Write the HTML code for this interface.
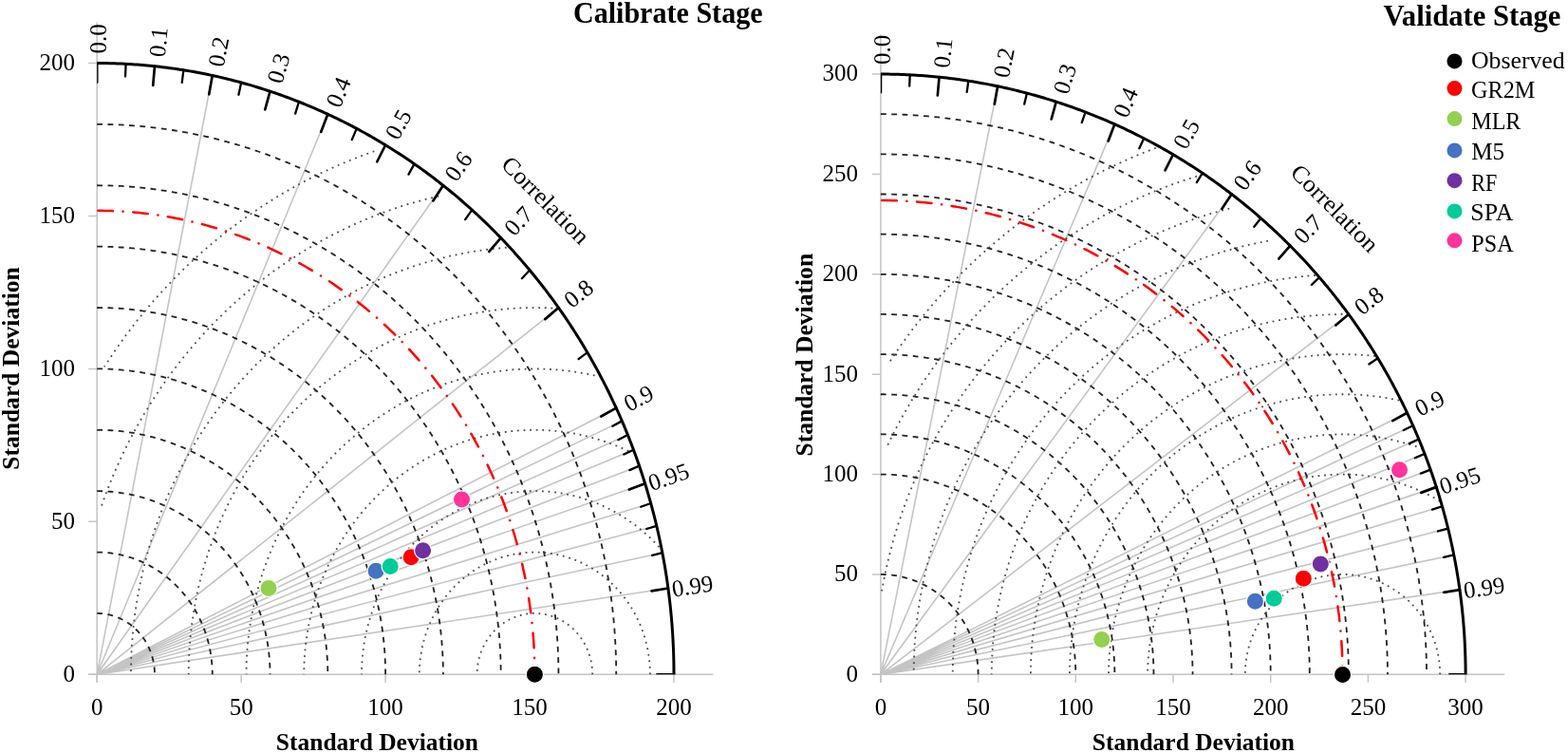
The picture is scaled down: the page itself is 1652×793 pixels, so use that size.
<!DOCTYPE html>
<html><head><meta charset="utf-8"><style>
html,body{margin:0;padding:0;background:#fff;}
svg{display:block;}
text{font-family:"Liberation Serif", "Times New Roman", serif;fill:#000;}
</style></head><body>
<svg width="1652" height="793" viewBox="0 0 1652 793">
<rect width="1652" height="793" fill="#fff"/>
<clipPath id="rcL"><rect x="102.2" y="0" width="729.36" height="710.3"/></clipPath>
<path d="M102.2,710.3 L223.76,79.51 M102.2,710.3 L345.32,120.25 M102.2,710.3 L466.88,195.26 M102.2,710.3 L588.44,324.02 M102.2,710.3 L649.22,429.67 M102.2,710.3 L655.3,443.38 M102.2,710.3 L661.38,457.98 M102.2,710.3 L667.45,473.67 M102.2,710.3 L673.53,490.65 M102.2,710.3 L679.61,509.27 M102.2,710.3 L685.69,530.04 M102.2,710.3 L691.77,553.79 M102.2,710.3 L697.84,582.19 M102.2,710.3 L703.92,619.48" stroke="#c4c4c4" stroke-width="1.6" fill="none"/>
<path d="M93.2,710.3 L751.63,710.3 M102.2,718.8 L102.2,23.53" stroke="#c4c4c4" stroke-width="1.5" fill="none"/>
<path d="M102.2,710.3 L102.2,718.8 M93.2,710.3 L102.2,710.3 M254.15,710.3 L254.15,718.8 M93.2,549.35 L102.2,549.35 M406.1,710.3 L406.1,718.8 M93.2,388.4 L102.2,388.4 M558.05,710.3 L558.05,718.8 M93.2,227.45 L102.2,227.45 M710,710.3 L710,718.8 M93.2,66.5 L102.2,66.5" stroke="#c4c4c4" stroke-width="1.5" fill="none"/>
<path d="M102.2,645.92 L102.73,645.92 L103.26,645.93 L103.79,645.94 L104.32,645.96 L104.85,645.98 L105.38,646.01 L105.91,646.04 L106.44,646.08 L106.97,646.12 L107.5,646.16 L108.03,646.22 L108.55,646.27 L109.08,646.33 L109.61,646.4 L110.13,646.47 L110.66,646.55 L111.18,646.63 L111.71,646.71 L112.23,646.8 L112.75,646.9 L113.28,647 L113.8,647.1 L114.32,647.21 L114.84,647.33 L115.36,647.45 L115.87,647.57 L116.39,647.7 L116.9,647.83 L117.42,647.97 L117.93,648.11 L118.44,648.26 L118.95,648.41 L119.46,648.57 L119.97,648.73 L120.48,648.9 L120.98,649.07 L121.49,649.25 L121.99,649.43 L122.49,649.61 L122.99,649.8 L123.49,650 L123.98,650.2 L124.48,650.4 L124.97,650.61 L125.46,650.82 L125.95,651.04 L126.44,651.26 L126.92,651.49 L127.41,651.72 L127.89,651.95 L128.37,652.19 L128.84,652.44 L129.32,652.68 L129.79,652.94 L130.27,653.19 L130.73,653.46 L131.2,653.72 L131.67,653.99 L132.13,654.27 L132.59,654.55 L133.05,654.83 L133.5,655.12 L133.96,655.41 L134.41,655.7 L134.86,656 L135.3,656.31 L135.75,656.61 L136.19,656.93 L136.63,657.24 L137.06,657.56 L137.5,657.89 L137.93,658.22 L138.35,658.55 L138.78,658.88 L139.2,659.22 L139.62,659.57 L140.04,659.92 L140.45,660.27 L140.86,660.62 L141.27,660.98 L141.67,661.35 L142.08,661.71 L142.47,662.08 L142.87,662.46 L143.26,662.83 L143.65,663.22 L144.04,663.6 L144.42,663.99 L144.8,664.38 L145.18,664.78 L145.55,665.18 L145.92,665.58 L146.29,665.98 L146.65,666.39 L147.01,666.81 L147.37,667.22 L147.72,667.64 L148.07,668.06 L148.42,668.49 L148.76,668.92 L149.1,669.35 L149.43,669.78 L149.77,670.22 L150.1,670.66 L150.42,671.11 L150.74,671.56 L151.06,672.01 L151.37,672.46 L151.68,672.91 L151.99,673.37 L152.29,673.83 L152.59,674.3 L152.88,674.77 L153.17,675.24 L153.46,675.71 L153.74,676.18 L154.02,676.66 L154.3,677.14 L154.57,677.62 L154.84,678.11 L155.1,678.6 L155.36,679.09 L155.61,679.58 L155.87,680.08 L156.11,680.57 L156.36,681.07 L156.59,681.57 L156.83,682.08 L157.06,682.58 L157.29,683.09 L157.51,683.6 L157.73,684.11 L157.94,684.63 L158.15,685.14 L158.35,685.66 L158.55,686.18 L158.75,686.7 L158.94,687.23 L159.13,687.75 L159.31,688.28 L159.49,688.81 L159.67,689.34 L159.84,689.87 L160.01,690.41 L160.17,690.94 L160.32,691.48 L160.48,692.02 L160.63,692.55 L160.77,693.1 L160.91,693.64 L161.04,694.18 L161.17,694.73 L161.3,695.27 L161.42,695.82 L161.54,696.37 L161.65,696.91 L161.76,697.46 L161.86,698.02 L161.96,698.57 L162.06,699.12 L162.15,699.67 L162.23,700.23 L162.31,700.78 L162.39,701.34 L162.46,701.9 L162.53,702.45 L162.59,703.01 L162.65,703.57 L162.7,704.13 L162.75,704.69 L162.79,705.25 L162.83,705.81 L162.87,706.37 L162.9,706.93 L162.92,707.49 L162.94,708.05 L162.96,708.61 L162.97,709.18 L162.98,709.74 L162.98,710.3" stroke="#222" stroke-width="1.8" stroke-dasharray="5.8 5.5" fill="none"/>
<path d="M102.2,581.54 L103.26,581.54 L104.32,581.56 L105.38,581.58 L106.44,581.62 L107.5,581.66 L108.56,581.72 L109.62,581.78 L110.68,581.85 L111.74,581.94 L112.79,582.03 L113.85,582.13 L114.91,582.25 L115.96,582.37 L117.01,582.5 L118.07,582.64 L119.12,582.79 L120.17,582.95 L121.22,583.13 L122.26,583.31 L123.31,583.5 L124.35,583.7 L125.39,583.91 L126.44,584.12 L127.47,584.35 L128.51,584.59 L129.55,584.84 L130.58,585.1 L131.61,585.36 L132.64,585.64 L133.66,585.93 L134.69,586.22 L135.71,586.53 L136.72,586.84 L137.74,587.17 L138.75,587.5 L139.76,587.84 L140.77,588.19 L141.78,588.56 L142.78,588.93 L143.78,589.31 L144.77,589.69 L145.76,590.09 L146.75,590.5 L147.74,590.92 L148.72,591.34 L149.7,591.78 L150.67,592.22 L151.64,592.67 L152.61,593.13 L153.57,593.6 L154.53,594.08 L155.49,594.57 L156.44,595.07 L157.39,595.57 L158.33,596.09 L159.27,596.61 L160.2,597.14 L161.13,597.68 L162.06,598.23 L162.98,598.79 L163.9,599.36 L164.81,599.93 L165.71,600.51 L166.62,601.11 L167.51,601.7 L168.41,602.31 L169.29,602.93 L170.18,603.55 L171.05,604.19 L171.92,604.83 L172.79,605.47 L173.65,606.13 L174.51,606.8 L175.36,607.47 L176.2,608.15 L177.04,608.84 L177.87,609.53 L178.7,610.23 L179.52,610.95 L180.34,611.66 L181.15,612.39 L181.95,613.12 L182.75,613.86 L183.54,614.61 L184.32,615.37 L185.1,616.13 L185.88,616.9 L186.64,617.68 L187.4,618.46 L188.16,619.25 L188.9,620.05 L189.64,620.86 L190.38,621.67 L191.1,622.49 L191.82,623.31 L192.54,624.14 L193.24,624.98 L193.94,625.83 L194.63,626.68 L195.32,627.53 L196,628.4 L196.67,629.27 L197.33,630.15 L197.99,631.03 L198.64,631.92 L199.28,632.81 L199.92,633.71 L200.54,634.62 L201.16,635.53 L201.78,636.45 L202.38,637.37 L202.98,638.3 L203.57,639.23 L204.15,640.17 L204.72,641.12 L205.29,642.07 L205.85,643.02 L206.4,643.98 L206.94,644.95 L207.47,645.92 L208,646.9 L208.52,647.88 L209.03,648.86 L209.53,649.85 L210.03,650.85 L210.51,651.84 L210.99,652.85 L211.46,653.86 L211.92,654.87 L212.37,655.88 L212.81,656.9 L213.25,657.93 L213.68,658.96 L214.1,659.99 L214.51,661.03 L214.91,662.07 L215.3,663.11 L215.69,664.16 L216.06,665.21 L216.43,666.26 L216.79,667.32 L217.14,668.38 L217.48,669.44 L217.81,670.51 L218.13,671.58 L218.45,672.65 L218.75,673.73 L219.05,674.81 L219.34,675.89 L219.62,676.97 L219.89,678.06 L220.15,679.15 L220.4,680.24 L220.64,681.34 L220.88,682.43 L221.1,683.53 L221.32,684.63 L221.53,685.73 L221.72,686.84 L221.91,687.94 L222.09,689.05 L222.26,690.16 L222.42,691.27 L222.58,692.38 L222.72,693.49 L222.85,694.61 L222.98,695.72 L223.09,696.84 L223.2,697.96 L223.3,699.08 L223.39,700.2 L223.46,701.32 L223.53,702.44 L223.59,703.56 L223.64,704.68 L223.69,705.81 L223.72,706.93 L223.74,708.05 L223.76,709.18 L223.76,710.3" stroke="#222" stroke-width="1.8" stroke-dasharray="5.8 5.5" fill="none"/>
<path d="M102.2,517.16 L103.79,517.17 L105.38,517.19 L106.97,517.23 L108.56,517.28 L110.15,517.34 L111.74,517.42 L113.33,517.52 L114.92,517.63 L116.51,517.76 L118.09,517.89 L119.68,518.05 L121.26,518.22 L122.84,518.4 L124.42,518.6 L126,518.81 L127.58,519.04 L129.15,519.28 L130.72,519.54 L132.29,519.81 L133.86,520.09 L135.43,520.39 L136.99,520.71 L138.55,521.04 L140.11,521.38 L141.67,521.74 L143.22,522.11 L144.77,522.5 L146.31,522.9 L147.85,523.31 L149.39,523.74 L150.93,524.18 L152.46,524.64 L153.99,525.11 L155.51,525.6 L157.03,526.1 L158.55,526.61 L160.06,527.14 L161.56,527.68 L163.07,528.24 L164.56,528.81 L166.06,529.39 L167.54,529.99 L169.03,530.6 L170.51,531.22 L171.98,531.86 L173.45,532.51 L174.91,533.18 L176.36,533.86 L177.82,534.55 L179.26,535.26 L180.7,535.97 L182.13,536.71 L183.56,537.45 L184.98,538.21 L186.4,538.98 L187.8,539.77 L189.21,540.57 L190.6,541.38 L191.99,542.2 L193.37,543.04 L194.74,543.88 L196.11,544.75 L197.47,545.62 L198.83,546.51 L200.17,547.41 L201.51,548.32 L202.84,549.24 L204.16,550.18 L205.48,551.13 L206.79,552.09 L208.09,553.06 L209.38,554.05 L210.66,555.04 L211.93,556.05 L213.2,557.07 L214.46,558.1 L215.71,559.15 L216.95,560.2 L218.18,561.27 L219.41,562.35 L220.62,563.44 L221.83,564.54 L223.02,565.65 L224.21,566.77 L225.39,567.9 L226.56,569.05 L227.71,570.2 L228.86,571.37 L230,572.54 L231.13,573.73 L232.25,574.93 L233.36,576.13 L234.46,577.35 L235.56,578.58 L236.64,579.82 L237.71,581.06 L238.76,582.32 L239.81,583.59 L240.85,584.87 L241.88,586.15 L242.9,587.45 L243.9,588.75 L244.9,590.07 L245.89,591.39 L246.86,592.72 L247.82,594.07 L248.78,595.42 L249.72,596.78 L250.65,598.14 L251.56,599.52 L252.47,600.9 L253.37,602.3 L254.25,603.7 L255.12,605.11 L255.98,606.53 L256.83,607.95 L257.67,609.38 L258.5,610.83 L259.31,612.27 L260.11,613.73 L260.9,615.19 L261.68,616.66 L262.44,618.14 L263.2,619.63 L263.94,621.12 L264.67,622.62 L265.38,624.12 L266.09,625.63 L266.78,627.15 L267.46,628.68 L268.12,630.21 L268.78,631.74 L269.42,633.29 L270.04,634.83 L270.66,636.39 L271.26,637.95 L271.85,639.51 L272.43,641.08 L272.99,642.66 L273.54,644.24 L274.08,645.83 L274.61,647.42 L275.12,649.02 L275.62,650.62 L276.1,652.22 L276.57,653.83 L277.03,655.45 L277.48,657.06 L277.91,658.69 L278.33,660.31 L278.73,661.94 L279.12,663.58 L279.5,665.21 L279.87,666.85 L280.22,668.5 L280.56,670.14 L280.88,671.79 L281.19,673.45 L281.49,675.1 L281.77,676.76 L282.04,678.42 L282.3,680.09 L282.54,681.75 L282.77,683.42 L282.98,685.09 L283.18,686.76 L283.37,688.44 L283.54,690.11 L283.7,691.79 L283.85,693.47 L283.98,695.15 L284.1,696.83 L284.2,698.51 L284.29,700.19 L284.37,701.88 L284.43,703.56 L284.48,705.24 L284.51,706.93 L284.53,708.61 L284.54,710.3" stroke="#222" stroke-width="1.8" stroke-dasharray="5.8 5.5" fill="none"/>
<path d="M102.2,452.78 L104.32,452.79 L106.44,452.82 L108.56,452.87 L110.68,452.94 L112.8,453.03 L114.92,453.13 L117.04,453.26 L119.16,453.41 L121.27,453.57 L123.39,453.76 L125.5,453.97 L127.61,454.19 L129.72,454.44 L131.83,454.7 L133.93,454.98 L136.04,455.29 L138.14,455.61 L140.23,455.95 L142.33,456.31 L144.42,456.69 L146.51,457.09 L148.59,457.51 L150.67,457.95 L152.75,458.41 L154.82,458.88 L156.89,459.38 L158.96,459.9 L161.02,460.43 L163.07,460.98 L165.12,461.55 L167.17,462.15 L169.21,462.76 L171.25,463.38 L173.28,464.03 L175.31,464.7 L177.33,465.38 L179.34,466.09 L181.35,466.81 L183.36,467.55 L185.35,468.31 L187.34,469.09 L189.33,469.88 L191.3,470.7 L193.27,471.53 L195.24,472.38 L197.19,473.25 L199.14,474.14 L201.09,475.04 L203.02,475.97 L204.95,476.91 L206.87,477.87 L208.78,478.84 L210.68,479.84 L212.57,480.85 L214.46,481.88 L216.34,482.92 L218.21,483.99 L220.07,485.07 L221.92,486.17 L223.76,487.28 L225.59,488.41 L227.42,489.56 L229.23,490.73 L231.03,491.91 L232.83,493.11 L234.61,494.33 L236.39,495.56 L238.15,496.81 L239.9,498.07 L241.65,499.35 L243.38,500.65 L245.1,501.96 L246.81,503.29 L248.51,504.64 L250.2,506 L251.88,507.37 L253.55,508.76 L255.2,510.17 L256.84,511.59 L258.47,513.03 L260.09,514.48 L261.7,515.95 L263.3,517.43 L264.88,518.93 L266.45,520.44 L268.01,521.96 L269.55,523.5 L271.09,525.06 L272.61,526.62 L274.11,528.21 L275.61,529.8 L277.09,531.41 L278.55,533.03 L280.01,534.67 L281.45,536.32 L282.87,537.99 L284.29,539.66 L285.68,541.35 L287.07,543.05 L288.44,544.77 L289.8,546.5 L291.14,548.24 L292.47,549.99 L293.78,551.75 L295.08,553.53 L296.36,555.32 L297.63,557.12 L298.89,558.93 L300.13,560.76 L301.35,562.59 L302.56,564.44 L303.76,566.3 L304.93,568.17 L306.1,570.04 L307.25,571.93 L308.38,573.84 L309.49,575.75 L310.59,577.67 L311.68,579.6 L312.75,581.54 L313.8,583.49 L314.84,585.45 L315.86,587.42 L316.86,589.4 L317.85,591.39 L318.82,593.39 L319.78,595.4 L320.71,597.41 L321.64,599.43 L322.54,601.47 L323.43,603.51 L324.3,605.56 L325.16,607.61 L325.99,609.68 L326.81,611.75 L327.62,613.83 L328.4,615.92 L329.17,618.01 L329.92,620.11 L330.66,622.22 L331.37,624.34 L332.07,626.46 L332.76,628.59 L333.42,630.72 L334.07,632.86 L334.7,635.01 L335.31,637.16 L335.9,639.32 L336.48,641.48 L337.04,643.65 L337.58,645.82 L338.1,648 L338.6,650.18 L339.09,652.37 L339.56,654.56 L340.01,656.76 L340.44,658.96 L340.85,661.16 L341.25,663.37 L341.63,665.58 L341.99,667.8 L342.33,670.01 L342.65,672.24 L342.95,674.46 L343.24,676.69 L343.51,678.92 L343.76,681.15 L343.99,683.38 L344.2,685.62 L344.39,687.86 L344.57,690.1 L344.73,692.34 L344.87,694.58 L344.99,696.82 L345.09,699.07 L345.17,701.31 L345.24,703.56 L345.28,705.81 L345.31,708.05 L345.32,710.3" stroke="#222" stroke-width="1.8" stroke-dasharray="5.8 5.5" fill="none"/>
<path d="M102.2,388.4 L104.85,388.41 L107.5,388.45 L110.16,388.51 L112.81,388.6 L115.46,388.71 L118.1,388.84 L120.75,389 L123.4,389.18 L126.04,389.39 L128.69,389.62 L131.33,389.88 L133.97,390.16 L136.6,390.47 L139.24,390.8 L141.87,391.15 L144.49,391.53 L147.12,391.94 L149.74,392.36 L152.36,392.81 L154.97,393.29 L157.58,393.79 L160.19,394.31 L162.79,394.86 L165.38,395.43 L167.98,396.03 L170.56,396.65 L173.14,397.29 L175.72,397.96 L178.29,398.65 L180.86,399.37 L183.41,400.11 L185.97,400.87 L188.51,401.66 L191.05,402.47 L193.58,403.3 L196.11,404.15 L198.63,405.03 L201.14,405.94 L203.64,406.86 L206.14,407.81 L208.63,408.79 L211.11,409.78 L213.58,410.8 L216.04,411.84 L218.5,412.9 L220.94,413.99 L223.38,415.1 L225.81,416.23 L228.23,417.38 L230.63,418.56 L233.03,419.76 L235.42,420.98 L237.8,422.22 L240.17,423.48 L242.53,424.77 L244.87,426.08 L247.21,427.41 L249.53,428.76 L251.85,430.13 L254.15,431.53 L256.44,432.94 L258.72,434.38 L260.99,435.84 L263.24,437.31 L265.49,438.81 L267.72,440.33 L269.93,441.87 L272.14,443.43 L274.33,445.01 L276.51,446.61 L278.68,448.24 L280.83,449.88 L282.97,451.54 L285.09,453.22 L287.2,454.92 L289.3,456.64 L291.38,458.38 L293.45,460.14 L295.5,461.91 L297.54,463.71 L299.57,465.53 L301.58,467.36 L303.57,469.21 L305.55,471.08 L307.51,472.97 L309.46,474.88 L311.39,476.8 L313.31,478.74 L315.21,480.7 L317.09,482.68 L318.96,484.68 L320.81,486.69 L322.64,488.72 L324.46,490.76 L326.26,492.83 L328.04,494.91 L329.81,497 L331.56,499.11 L333.29,501.24 L335,503.39 L336.7,505.55 L338.37,507.72 L340.03,509.91 L341.68,512.12 L343.3,514.34 L344.91,516.58 L346.49,518.83 L348.06,521.09 L349.61,523.37 L351.14,525.67 L352.65,527.97 L354.14,530.3 L355.62,532.63 L357.07,534.98 L358.51,537.34 L359.92,539.72 L361.32,542.11 L362.69,544.51 L364.05,546.92 L365.39,549.35 L366.7,551.79 L368,554.24 L369.27,556.7 L370.53,559.18 L371.76,561.66 L372.98,564.16 L374.17,566.67 L375.34,569.19 L376.5,571.72 L377.63,574.26 L378.74,576.81 L379.83,579.37 L380.89,581.94 L381.94,584.52 L382.97,587.11 L383.97,589.71 L384.95,592.32 L385.92,594.94 L386.85,597.57 L387.77,600.2 L388.67,602.85 L389.54,605.5 L390.4,608.16 L391.23,610.83 L392.03,613.5 L392.82,616.19 L393.59,618.88 L394.33,621.57 L395.05,624.28 L395.74,626.99 L396.42,629.7 L397.07,632.43 L397.7,635.15 L398.31,637.89 L398.9,640.63 L399.46,643.37 L400,646.12 L400.52,648.88 L401.01,651.64 L401.48,654.4 L401.93,657.17 L402.36,659.94 L402.76,662.72 L403.14,665.5 L403.5,668.28 L403.83,671.07 L404.15,673.86 L404.44,676.65 L404.7,679.45 L404.94,682.24 L405.16,685.04 L405.36,687.85 L405.53,690.65 L405.68,693.45 L405.81,696.26 L405.91,699.07 L406,701.87 L406.05,704.68 L406.09,707.49 L406.1,710.3" stroke="#222" stroke-width="1.8" stroke-dasharray="5.8 5.5" fill="none"/>
<path d="M102.2,324.02 L105.38,324.03 L108.56,324.08 L111.75,324.15 L114.93,324.26 L118.11,324.39 L121.29,324.55 L124.46,324.74 L127.64,324.96 L130.81,325.21 L133.98,325.49 L137.15,325.8 L140.32,326.14 L143.48,326.5 L146.64,326.9 L149.8,327.32 L152.95,327.78 L156.1,328.26 L159.25,328.78 L162.39,329.32 L165.53,329.89 L168.66,330.49 L171.78,331.12 L174.91,331.77 L178.02,332.46 L181.13,333.18 L184.24,333.92 L187.33,334.69 L190.42,335.49 L193.51,336.32 L196.59,337.18 L199.66,338.07 L202.72,338.98 L205.77,339.93 L208.82,340.9 L211.86,341.9 L214.89,342.93 L217.91,343.98 L220.93,345.07 L223.93,346.18 L226.93,347.32 L229.91,348.48 L232.89,349.68 L235.86,350.9 L238.81,352.15 L241.76,353.42 L244.69,354.73 L247.62,356.06 L250.53,357.42 L253.43,358.8 L256.32,360.21 L259.2,361.65 L262.07,363.11 L264.92,364.6 L267.76,366.12 L270.59,367.67 L273.41,369.24 L276.21,370.83 L279,372.45 L281.78,374.1 L284.54,375.77 L287.29,377.47 L290.02,379.19 L292.74,380.94 L295.45,382.72 L298.14,384.51 L300.82,386.34 L303.48,388.19 L306.13,390.06 L308.76,391.96 L311.37,393.88 L313.97,395.82 L316.55,397.79 L319.12,399.79 L321.67,401.8 L324.2,403.84 L326.72,405.91 L329.22,407.99 L331.7,410.1 L334.17,412.24 L336.61,414.39 L339.04,416.57 L341.45,418.77 L343.84,420.99 L346.22,423.24 L348.57,425.5 L350.91,427.79 L353.23,430.1 L355.53,432.43 L357.81,434.79 L360.07,437.16 L362.31,439.55 L364.53,441.97 L366.73,444.4 L368.91,446.86 L371.07,449.33 L373.21,451.83 L375.33,454.34 L377.43,456.88 L379.5,459.43 L381.56,462 L383.6,464.6 L385.61,467.21 L387.6,469.84 L389.57,472.48 L391.52,475.15 L393.45,477.83 L395.35,480.53 L397.23,483.25 L399.09,485.99 L400.93,488.74 L402.74,491.51 L404.53,494.29 L406.3,497.1 L408.05,499.92 L409.77,502.75 L411.47,505.6 L413.14,508.47 L414.79,511.35 L416.42,514.25 L418.02,517.16 L419.6,520.09 L421.16,523.03 L422.69,525.98 L424.19,528.95 L425.68,531.94 L427.13,534.93 L428.56,537.94 L429.97,540.97 L431.35,544 L432.71,547.05 L434.04,550.11 L435.35,553.19 L436.63,556.27 L437.89,559.37 L439.12,562.48 L440.33,565.6 L441.5,568.73 L442.66,571.87 L443.79,575.02 L444.89,578.18 L445.96,581.36 L447.01,584.54 L448.03,587.73 L449.03,590.93 L450,594.14 L450.95,597.36 L451.86,600.59 L452.75,603.83 L453.62,607.07 L454.45,610.32 L455.26,613.58 L456.05,616.85 L456.8,620.12 L457.53,623.41 L458.24,626.69 L458.91,629.99 L459.56,633.29 L460.18,636.59 L460.77,639.91 L461.34,643.22 L461.88,646.55 L462.39,649.87 L462.87,653.2 L463.33,656.54 L463.76,659.88 L464.16,663.22 L464.54,666.57 L464.88,669.92 L465.2,673.28 L465.49,676.63 L465.76,679.99 L465.99,683.35 L466.2,686.72 L466.38,690.08 L466.53,693.45 L466.66,696.82 L466.76,700.19 L466.82,703.56 L466.87,706.93 L466.88,710.3" stroke="#222" stroke-width="1.8" stroke-dasharray="5.8 5.5" fill="none"/>
<path d="M102.2,259.64 L105.91,259.66 L109.63,259.71 L113.34,259.79 L117.05,259.91 L120.76,260.07 L124.47,260.26 L128.17,260.48 L131.88,260.74 L135.58,261.03 L139.28,261.35 L142.98,261.71 L146.67,262.11 L150.36,262.54 L154.05,263 L157.73,263.5 L161.41,264.03 L165.09,264.59 L168.76,265.19 L172.42,265.82 L176.08,266.49 L179.73,267.19 L183.38,267.92 L187.02,268.69 L190.66,269.49 L194.29,270.32 L197.91,271.19 L201.52,272.09 L205.13,273.03 L208.73,273.99 L212.32,275 L215.9,276.03 L219.47,277.1 L223.04,278.2 L226.59,279.33 L230.14,280.5 L233.67,281.7 L237.2,282.93 L240.72,284.19 L244.22,285.49 L247.72,286.82 L251.2,288.18 L254.67,289.57 L258.13,291 L261.58,292.46 L265.02,293.94 L268.44,295.47 L271.85,297.02 L275.25,298.6 L278.64,300.22 L282.01,301.86 L285.37,303.54 L288.71,305.25 L292.04,306.99 L295.35,308.76 L298.66,310.56 L301.94,312.39 L305.21,314.25 L308.47,316.14 L311.71,318.07 L314.93,320.02 L318.14,322 L321.33,324.01 L324.5,326.05 L327.66,328.12 L330.8,330.22 L333.92,332.34 L337.03,334.5 L340.11,336.69 L343.18,338.9 L346.23,341.14 L349.27,343.41 L352.28,345.71 L355.27,348.03 L358.25,350.39 L361.2,352.77 L364.14,355.18 L367.06,357.61 L369.95,360.07 L372.83,362.56 L375.68,365.07 L378.51,367.62 L381.33,370.18 L384.12,372.78 L386.89,375.39 L389.64,378.04 L392.36,380.71 L395.07,383.4 L397.75,386.12 L400.41,388.87 L403.05,391.64 L405.66,394.43 L408.25,397.25 L410.82,400.09 L413.36,402.95 L415.88,405.84 L418.38,408.75 L420.85,411.68 L423.3,414.64 L425.72,417.62 L428.12,420.62 L430.5,423.64 L432.84,426.69 L435.17,429.76 L437.47,432.85 L439.74,435.96 L441.99,439.09 L444.21,442.24 L446.4,445.41 L448.57,448.6 L450.72,451.81 L452.83,455.04 L454.92,458.29 L456.99,461.56 L459.02,464.85 L461.03,468.16 L463.01,471.49 L464.96,474.83 L466.89,478.19 L468.79,481.57 L470.66,484.97 L472.5,488.38 L474.32,491.82 L476.1,495.26 L477.86,498.73 L479.59,502.21 L481.29,505.7 L482.96,509.22 L484.6,512.74 L486.21,516.29 L487.8,519.84 L489.35,523.41 L490.88,527 L492.37,530.6 L493.84,534.21 L495.27,537.84 L496.68,541.48 L498.06,545.13 L499.4,548.8 L500.72,552.48 L502,556.17 L503.26,559.87 L504.48,563.58 L505.67,567.3 L506.84,571.04 L507.97,574.78 L509.07,578.54 L510.14,582.31 L511.18,586.08 L512.19,589.87 L513.16,593.66 L514.11,597.46 L515.02,601.28 L515.9,605.1 L516.76,608.92 L517.57,612.76 L518.36,616.6 L519.12,620.45 L519.84,624.31 L520.54,628.17 L521.2,632.04 L521.83,635.92 L522.42,639.8 L522.99,643.69 L523.52,647.58 L524.02,651.48 L524.49,655.38 L524.93,659.28 L525.33,663.19 L525.7,667.11 L526.04,671.02 L526.35,674.94 L526.62,678.86 L526.87,682.79 L527.08,686.71 L527.26,690.64 L527.4,694.57 L527.51,698.5 L527.6,702.43 L527.64,706.37 L527.66,710.3" stroke="#222" stroke-width="1.8" stroke-dasharray="5.8 5.5" fill="none"/>
<path d="M102.2,195.26 L106.44,195.28 L110.69,195.34 L114.93,195.44 L119.17,195.57 L123.41,195.75 L127.65,195.97 L131.88,196.22 L136.12,196.51 L140.35,196.85 L144.58,197.22 L148.8,197.63 L153.03,198.08 L157.24,198.57 L161.46,199.1 L165.67,199.67 L169.87,200.27 L174.07,200.92 L178.26,201.6 L182.45,202.32 L186.63,203.08 L190.81,203.88 L194.98,204.72 L199.14,205.6 L203.29,206.51 L207.44,207.47 L211.58,208.46 L215.71,209.49 L219.83,210.56 L223.94,211.67 L228.05,212.81 L232.14,213.99 L236.23,215.21 L240.3,216.47 L244.36,217.76 L248.42,219.1 L252.46,220.47 L256.49,221.88 L260.5,223.32 L264.51,224.8 L268.5,226.32 L272.48,227.88 L276.45,229.47 L280.41,231.1 L284.35,232.76 L288.28,234.47 L292.19,236.2 L296.09,237.98 L299.97,239.79 L303.84,241.63 L307.69,243.52 L311.53,245.43 L315.35,247.39 L319.16,249.37 L322.95,251.4 L326.72,253.45 L330.48,255.55 L334.21,257.67 L337.93,259.84 L341.64,262.03 L345.32,264.26 L348.99,266.53 L352.63,268.82 L356.26,271.16 L359.87,273.52 L363.46,275.92 L367.03,278.35 L370.57,280.82 L374.1,283.31 L377.61,285.84 L381.1,288.4 L384.56,291 L388,293.62 L391.43,296.28 L394.83,298.97 L398.2,301.69 L401.56,304.44 L404.89,307.23 L408.2,310.04 L411.49,312.88 L414.75,315.76 L417.99,318.66 L421.2,321.59 L424.39,324.56 L427.56,327.55 L430.7,330.57 L433.81,333.62 L436.91,336.7 L439.97,339.81 L443.01,342.95 L446.02,346.11 L449.01,349.3 L451.97,352.52 L454.91,355.77 L457.81,359.04 L460.69,362.34 L463.55,365.67 L466.37,369.02 L469.17,372.4 L471.94,375.81 L474.68,379.24 L477.39,382.69 L480.08,386.17 L482.74,389.68 L485.36,393.21 L487.96,396.76 L490.53,400.34 L493.07,403.94 L495.58,407.57 L498.06,411.21 L500.5,414.89 L502.92,418.58 L505.31,422.29 L507.67,426.03 L510,429.79 L512.29,433.57 L514.55,437.37 L516.79,441.19 L518.99,445.03 L521.16,448.9 L523.3,452.78 L525.4,456.68 L527.48,460.6 L529.52,464.54 L531.52,468.5 L533.5,472.48 L535.44,476.48 L537.35,480.49 L539.23,484.52 L541.07,488.57 L542.88,492.63 L544.66,496.72 L546.4,500.81 L548.11,504.93 L549.79,509.06 L551.43,513.2 L553.03,517.36 L554.61,521.54 L556.14,525.73 L557.65,529.93 L559.12,534.15 L560.55,538.38 L561.95,542.62 L563.31,546.88 L564.64,551.14 L565.94,555.42 L567.19,559.72 L568.42,564.02 L569.6,568.34 L570.76,572.66 L571.87,577 L572.95,581.34 L574,585.7 L575.01,590.07 L575.98,594.44 L576.91,598.82 L577.81,603.22 L578.68,607.62 L579.51,612.03 L580.3,616.44 L581.05,620.86 L581.77,625.29 L582.45,629.73 L583.1,634.17 L583.71,638.62 L584.28,643.07 L584.82,647.53 L585.31,652 L585.78,656.46 L586.2,660.94 L586.59,665.41 L586.94,669.89 L587.26,674.37 L587.53,678.86 L587.77,683.34 L587.98,687.83 L588.14,692.33 L588.27,696.82 L588.37,701.31 L588.42,705.81 L588.44,710.3" stroke="#222" stroke-width="1.8" stroke-dasharray="5.8 5.5" fill="none"/>
<path d="M102.2,130.88 L106.97,130.9 L111.75,130.97 L116.52,131.08 L121.29,131.23 L126.06,131.43 L130.83,131.67 L135.59,131.96 L140.36,132.29 L145.12,132.67 L149.88,133.08 L154.63,133.55 L159.38,134.05 L164.12,134.6 L168.86,135.2 L173.6,135.84 L178.33,136.52 L183.05,137.24 L187.77,138.01 L192.48,138.83 L197.19,139.68 L201.89,140.58 L206.58,141.53 L211.26,142.51 L215.93,143.54 L220.6,144.61 L225.25,145.73 L229.9,146.89 L234.54,148.09 L239.16,149.34 L243.78,150.62 L248.38,151.95 L252.98,153.33 L257.56,154.74 L262.13,156.2 L266.69,157.7 L271.24,159.24 L275.77,160.82 L280.29,162.45 L284.8,164.11 L289.29,165.82 L293.77,167.57 L298.23,169.36 L302.68,171.2 L307.12,173.07 L311.54,174.99 L315.94,176.94 L320.32,178.94 L324.69,180.97 L329.05,183.05 L333.38,185.17 L337.7,187.32 L342,189.52 L346.28,191.76 L350.54,194.03 L354.79,196.35 L359.01,198.7 L363.22,201.1 L367.4,203.53 L371.57,206 L375.71,208.51 L379.83,211.05 L383.94,213.64 L388.02,216.26 L392.08,218.92 L396.11,221.62 L400.13,224.36 L404.12,227.13 L408.09,229.94 L412.04,232.78 L415.96,235.67 L419.86,238.59 L423.73,241.54 L427.58,244.53 L431.4,247.55 L435.2,250.62 L438.98,253.71 L442.73,256.84 L446.45,260.01 L450.15,263.21 L453.82,266.44 L457.46,269.71 L461.08,273.01 L464.67,276.34 L468.23,279.71 L471.76,283.11 L475.27,286.54 L478.74,290 L482.19,293.5 L485.61,297.03 L489,300.59 L492.36,304.18 L495.69,307.8 L498.99,311.45 L502.27,315.14 L505.51,318.85 L508.72,322.59 L511.89,326.36 L515.04,330.17 L518.16,334 L521.24,337.86 L524.29,341.74 L527.31,345.66 L530.3,349.6 L533.26,353.57 L536.18,357.57 L539.07,361.6 L541.93,365.65 L544.75,369.73 L547.54,373.83 L550.29,377.96 L553.01,382.11 L555.7,386.29 L558.35,390.5 L560.97,394.73 L563.55,398.98 L566.1,403.25 L568.61,407.55 L571.09,411.88 L573.53,416.22 L575.93,420.59 L578.3,424.98 L580.63,429.39 L582.93,433.82 L585.19,438.28 L587.41,442.75 L589.6,447.25 L591.75,451.76 L593.86,456.3 L595.93,460.85 L597.97,465.43 L599.97,470.02 L601.93,474.63 L603.85,479.26 L605.73,483.9 L607.58,488.57 L609.39,493.25 L611.16,497.94 L612.89,502.65 L614.58,507.38 L616.23,512.13 L617.84,516.89 L619.42,521.66 L620.95,526.45 L622.45,531.25 L623.9,536.07 L625.32,540.89 L626.69,545.74 L628.03,550.59 L629.33,555.46 L630.58,560.34 L631.8,565.22 L632.97,570.13 L634.11,575.04 L635.2,579.96 L636.25,584.89 L637.27,589.83 L638.24,594.78 L639.17,599.74 L640.06,604.71 L640.91,609.68 L641.72,614.67 L642.49,619.66 L643.21,624.66 L643.9,629.66 L644.54,634.67 L645.14,639.69 L645.7,644.71 L646.22,649.73 L646.7,654.77 L647.14,659.8 L647.53,664.84 L647.89,669.88 L648.2,674.93 L648.47,679.98 L648.7,685.03 L648.89,690.08 L649.03,695.13 L649.14,700.19 L649.2,705.24 L649.22,710.3" stroke="#222" stroke-width="1.8" stroke-dasharray="5.8 5.5" fill="none"/>
<path d="M624.15,710.3 L624.11,708.05 L624,705.81 L623.82,703.57 L623.56,701.34 L623.22,699.12 L622.82,696.91 L622.34,694.73 L621.79,692.55 L621.17,690.41 L620.48,688.28 L619.72,686.18 L618.89,684.11 L618,682.08 L617.03,680.08 L616.01,678.11 L614.91,676.18 L613.76,674.3 L612.54,672.46 L611.26,670.66 L609.93,668.92 L608.54,667.22 L607.09,665.58 L605.59,663.99 L604.04,662.46 L602.44,660.98 L600.79,659.57 L599.09,658.22 L597.36,656.93 L595.58,655.7 L593.76,654.55 L591.9,653.46 L590.01,652.44 L588.09,651.49 L586.14,650.61 L584.16,649.8 L582.15,649.07 L580.12,648.41 L578.07,647.83 L576.01,647.33 L573.92,646.9 L571.83,646.55 L569.72,646.27 L567.61,646.08 L565.49,645.96 L563.37,645.92 L561.25,645.96 L559.13,646.08 L557.02,646.27 L554.91,646.55 L552.81,646.9 L550.73,647.33 L548.66,647.83 L546.62,648.41 L544.59,649.07 L542.58,649.8 L540.6,650.61 L538.65,651.49 L536.72,652.44 L534.83,653.46 L532.98,654.55 L531.16,655.7 L529.38,656.93 L527.64,658.22 L525.95,659.57 L524.3,660.98 L522.7,662.46 L521.15,663.99 L519.65,665.58 L518.2,667.22 L516.81,668.92 L515.47,670.66 L514.2,672.46 L512.98,674.3 L511.82,676.18 L510.73,678.11 L509.7,680.08 L508.74,682.08 L507.84,684.11 L507.01,686.18 L506.25,688.28 L505.56,690.41 L504.94,692.55 L504.39,694.73 L503.92,696.91 L503.51,699.12 L503.18,701.34 L502.92,703.57 L502.74,705.81 L502.63,708.05 L502.59,710.3" stroke="#4a4a4a" stroke-width="1.8" stroke-dasharray="1.8 4.8" fill="none"/><path d="M684.93,710.3 L684.85,705.81 L684.63,701.32 L684.26,696.84 L683.75,692.38 L683.08,687.94 L682.27,683.53 L681.32,679.15 L680.22,674.81 L678.98,670.51 L677.6,666.26 L676.08,662.07 L674.42,657.93 L672.63,653.86 L670.7,649.85 L668.64,645.92 L666.46,642.07 L664.15,638.3 L661.71,634.62 L659.16,631.03 L656.49,627.53 L653.7,624.14 L650.81,620.86 L647.81,617.68 L644.71,614.61 L641.51,611.66 L638.21,608.84 L634.82,606.13 L631.34,603.55 L627.79,601.11 L624.15,598.79 L620.44,596.61 L616.66,594.57 L612.81,592.67 L608.91,590.92 L604.94,589.31 L600.93,587.84 L596.87,586.53 L592.78,585.36 L588.64,584.35 L584.48,583.5 L580.29,582.79 L576.07,582.25 L571.85,581.85 L567.61,581.62 L563.37,581.54 L559.13,581.62 L554.89,581.85 L550.66,582.25 L546.45,582.79 L542.26,583.5 L538.09,584.35 L533.96,585.36 L529.86,586.53 L525.8,587.84 L521.79,589.31 L517.83,590.92 L513.93,592.67 L510.08,594.57 L506.3,596.61 L502.59,598.79 L498.95,601.11 L495.39,603.55 L491.92,606.13 L488.53,608.84 L485.23,611.66 L482.03,614.61 L478.93,617.68 L475.93,620.86 L473.03,624.14 L470.25,627.53 L467.58,631.03 L465.02,634.62 L462.59,638.3 L460.28,642.07 L458.09,645.92 L456.04,649.85 L454.11,653.86 L452.32,657.93 L450.66,662.07 L449.14,666.26 L447.76,670.51 L446.52,674.81 L445.42,679.15 L444.46,683.53 L443.66,687.94 L442.99,692.38 L442.47,696.84 L442.1,701.32 L441.88,705.81 L441.81,710.3" stroke="#4a4a4a" stroke-width="1.8" stroke-dasharray="1.8 4.8" fill="none"/><path d="M694.53,576.13 L690.03,571.37 L685.38,566.77 L680.57,562.35 L675.63,558.1 L670.55,554.05 L665.33,550.18 L659.99,546.51 L654.54,543.04 L648.97,539.77 L643.3,536.71 L637.53,533.86 L631.67,531.22 L625.73,528.81 L619.71,526.61 L613.63,524.64 L607.48,522.9 L601.28,521.38 L595.03,520.09 L588.75,519.04 L582.43,518.22 L576.09,517.63 L569.73,517.28 L563.37,517.16 L557,517.28 L550.65,517.63 L544.31,518.22 L537.99,519.04 L531.71,520.09 L525.46,521.38 L519.26,522.9 L513.11,524.64 L507.02,526.61 L501,528.81 L495.06,531.22 L489.2,533.86 L483.44,536.71 L477.76,539.77 L472.2,543.04 L466.74,546.51 L461.41,550.18 L456.19,554.05 L451.11,558.1 L446.16,562.35 L441.36,566.77 L436.7,571.37 L432.2,576.13 L427.86,581.06 L423.69,586.15 L419.68,591.39 L415.85,596.78 L412.2,602.3 L408.74,607.95 L405.46,613.73 L402.37,619.63 L399.48,625.63 L396.79,631.74 L394.31,637.95 L392.02,644.24 L389.95,650.62 L388.09,657.06 L386.44,663.58 L385.01,670.14 L383.8,676.76 L382.8,683.42 L382.03,690.11 L381.47,696.83 L381.14,703.56 L381.03,710.3" stroke="#4a4a4a" stroke-width="1.8" stroke-dasharray="1.8 4.8" fill="none"/><path d="M662.25,475.04 L654.44,471.53 L646.52,468.31 L638.5,465.38 L630.38,462.76 L622.18,460.43 L613.92,458.41 L605.59,456.69 L597.2,455.29 L588.78,454.19 L580.33,453.41 L571.85,452.94 L563.37,452.78 L554.88,452.94 L546.41,453.41 L537.96,454.19 L529.53,455.29 L521.15,456.69 L512.82,458.41 L504.55,460.43 L496.36,462.76 L488.24,465.38 L480.22,468.31 L472.29,471.53 L464.48,475.04 L456.79,478.84 L449.23,482.92 L441.81,487.28 L434.53,491.91 L427.42,496.81 L420.47,501.96 L413.69,507.37 L407.09,513.03 L400.69,518.93 L394.48,525.06 L388.48,531.41 L382.69,537.99 L377.13,544.77 L371.79,551.75 L366.68,558.93 L361.81,566.3 L357.19,573.84 L352.82,581.54 L348.71,589.4 L344.85,597.41 L341.27,605.56 L337.95,613.83 L334.91,622.22 L332.15,630.72 L329.67,639.32 L327.47,648 L325.56,656.76 L323.94,665.58 L322.61,674.46 L321.58,683.38 L320.84,692.34 L320.4,701.31 L320.25,710.3" stroke="#4a4a4a" stroke-width="1.8" stroke-dasharray="1.8 4.8" fill="none"/><path d="M626.55,395.43 L616.14,393.29 L605.66,391.53 L595.13,390.16 L584.57,389.18 L573.97,388.6 L563.37,388.4 L552.76,388.6 L542.17,389.18 L531.6,390.16 L521.07,391.53 L510.6,393.29 L500.18,395.43 L489.85,397.96 L479.6,400.87 L469.46,404.15 L459.43,407.81 L449.53,411.84 L439.76,416.23 L430.15,420.98 L420.7,426.08 L411.42,431.53 L402.33,437.31 L393.43,443.43 L384.74,449.88 L376.27,456.64 L368.03,463.71 L360.02,471.08 L352.26,478.74 L344.76,486.69 L337.53,494.91 L330.57,503.39 L323.89,512.12 L317.51,521.09 L311.42,530.3 L305.65,539.72 L300.18,549.35 L295.04,559.18 L290.22,569.19 L285.74,579.37 L281.6,589.71 L277.8,600.2 L274.34,610.83 L271.24,621.57 L268.5,632.43 L266.11,643.37 L264.09,654.4 L262.43,665.5 L261.13,676.65 L260.21,687.85 L259.65,699.07 L259.47,710.3" stroke="#4a4a4a" stroke-width="1.8" stroke-dasharray="1.8 4.8" fill="none"/><path d="M588.81,324.96 L576.1,324.26 L563.37,324.02 L550.64,324.26 L537.93,324.96 L525.25,326.14 L512.61,327.78 L500.04,329.89 L487.55,332.46 L475.14,335.49 L462.85,338.98 L450.68,342.93 L438.64,347.32 L426.76,352.15 L415.04,357.42 L403.5,363.11 L392.16,369.24 L381.03,375.77 L370.12,382.72 L359.44,390.06 L349.01,397.79 L338.85,405.91 L328.96,414.39 L319.35,423.24 L310.04,432.43 L301.04,441.97 L292.36,451.83 L284.01,462 L276,472.48 L268.34,483.25 L261.03,494.29 L254.1,505.6 L247.55,517.16 L241.37,528.95 L235.6,540.97 L230.22,553.19 L225.24,565.6 L220.68,578.18 L216.54,590.93 L212.82,603.83 L209.52,616.85 L206.66,629.99 L204.23,643.22 L202.24,656.54 L200.69,669.92 L199.58,683.35 L198.91,696.82 L198.69,710.3" stroke="#4a4a4a" stroke-width="1.8" stroke-dasharray="1.8 4.8" fill="none"/><path d="M533.69,260.74 L518.9,262.11 L504.16,264.03 L489.49,266.49 L474.91,269.49 L460.44,273.03 L446.1,277.1 L431.89,281.7 L417.85,286.82 L403.99,292.46 L390.32,298.6 L376.86,305.25 L363.63,312.39 L350.64,320.02 L337.91,328.12 L325.45,336.69 L313.29,345.71 L301.43,355.18 L289.89,365.07 L278.68,375.39 L267.82,386.12 L257.32,397.25 L247.19,408.75 L237.45,420.62 L228.1,432.85 L219.16,445.41 L210.65,458.29 L202.56,471.49 L194.91,484.97 L187.71,498.73 L180.97,512.74 L174.69,527 L168.89,541.48 L163.57,556.17 L158.73,571.04 L154.39,586.08 L150.55,601.28 L147.21,616.6 L144.37,632.04 L142.05,647.58 L140.24,663.19 L138.94,678.86 L138.17,694.57 L137.91,710.3" stroke="#4a4a4a" stroke-width="1.8" stroke-dasharray="1.8 4.8" fill="none"/><path d="M462.27,206.51 L445.74,210.56 L429.34,215.21 L413.11,220.47 L397.06,226.32 L381.22,232.76 L365.6,239.79 L350.21,247.39 L335.09,255.55 L320.25,264.26 L305.7,273.52 L291.47,283.31 L277.56,293.62 L264.01,304.44 L250.82,315.76 L238.01,327.55 L225.6,339.81 L213.6,352.52 L202.02,365.67 L190.89,379.24 L180.21,393.21 L169.99,407.57 L160.26,422.29 L151.01,437.37 L142.27,452.78 L134.04,468.5 L126.34,484.52 L119.17,500.81 L112.53,517.36 L106.45,534.15" stroke="#4a4a4a" stroke-width="1.8" stroke-dasharray="1.8 4.8" fill="none"/><path d="M394.33,159.24 L376.28,165.82 L358.45,173.07 L340.88,180.97 L323.57,189.52 L306.56,198.7 L289.86,208.51 L273.49,218.92 L257.48,229.94 L241.84,241.54 L226.59,253.71 L211.75,266.44 L197.34,279.71 L183.38,293.5 L169.87,307.8 L156.85,322.59 L144.33,337.86 L132.31,353.57 L120.82,369.73 L109.87,386.29" stroke="#4a4a4a" stroke-width="1.8" stroke-dasharray="1.8 4.8" fill="none"/>
<path d="M102.2,221.82 L106.22,221.84 L110.25,221.89 L114.27,221.98 L118.29,222.11 L122.32,222.28 L126.34,222.49 L130.35,222.73 L134.37,223.01 L138.38,223.32 L142.39,223.68 L146.4,224.07 L150.41,224.49 L154.41,224.96 L158.4,225.46 L162.39,226 L166.38,226.57 L170.37,227.18 L174.34,227.83 L178.31,228.52 L182.28,229.24 L186.24,230 L190.2,230.79 L194.14,231.62 L198.08,232.49 L202.02,233.4 L205.94,234.34 L209.86,235.31 L213.77,236.33 L217.67,237.38 L221.56,238.46 L225.44,239.58 L229.32,240.74 L233.18,241.93 L237.03,243.16 L240.88,244.43 L244.71,245.72 L248.53,247.06 L252.34,248.43 L256.14,249.84 L259.93,251.28 L263.7,252.75 L267.47,254.26 L271.22,255.81 L274.96,257.39 L278.68,259 L282.39,260.65 L286.09,262.33 L289.77,264.05 L293.44,265.8 L297.1,267.58 L300.74,269.4 L304.36,271.25 L307.97,273.14 L311.57,275.06 L315.14,277.01 L318.71,278.99 L322.25,281.01 L325.78,283.06 L329.29,285.15 L332.78,287.26 L336.26,289.41 L339.72,291.59 L343.16,293.8 L346.58,296.04 L349.99,298.32 L353.37,300.62 L356.74,302.96 L360.08,305.33 L363.41,307.73 L366.72,310.16 L370,312.62 L373.27,315.11 L376.51,317.63 L379.74,320.18 L382.94,322.76 L386.12,325.37 L389.28,328.01 L392.42,330.68 L395.54,333.37 L398.63,336.1 L401.7,338.85 L404.75,341.64 L407.78,344.45 L410.78,347.29 L413.76,350.15 L416.72,353.05 L419.65,355.97 L422.55,358.91 L425.44,361.89 L428.3,364.89 L431.13,367.92 L433.94,370.97 L436.72,374.05 L439.48,377.16 L442.21,380.29 L444.91,383.44 L447.59,386.62 L450.25,389.83 L452.88,393.06 L455.48,396.31 L458.05,399.59 L460.6,402.89 L463.11,406.21 L465.61,409.56 L468.07,412.93 L470.51,416.32 L472.91,419.74 L475.29,423.18 L477.64,426.64 L479.97,430.12 L482.26,433.62 L484.53,437.14 L486.76,440.69 L488.97,444.25 L491.15,447.84 L493.29,451.44 L495.41,455.07 L497.5,458.71 L499.56,462.38 L501.58,466.06 L503.58,469.76 L505.55,473.48 L507.48,477.22 L509.39,480.97 L511.26,484.74 L513.1,488.53 L514.92,492.34 L516.7,496.16 L518.44,500 L520.16,503.86 L521.85,507.73 L523.5,511.62 L525.12,515.52 L526.71,519.43 L528.26,523.37 L529.79,527.31 L531.28,531.27 L532.74,535.24 L534.16,539.23 L535.56,543.23 L536.92,547.24 L538.24,551.27 L539.54,555.3 L540.8,559.35 L542.02,563.41 L543.22,567.48 L544.38,571.56 L545.5,575.66 L546.6,579.76 L547.65,583.87 L548.68,587.99 L549.67,592.13 L550.63,596.27 L551.55,600.42 L552.44,604.57 L553.29,608.74 L554.11,612.91 L554.9,617.09 L555.65,621.28 L556.36,625.48 L557.04,629.68 L557.69,633.88 L558.3,638.1 L558.88,642.32 L559.42,646.54 L559.93,650.77 L560.4,655 L560.84,659.24 L561.25,663.48 L561.61,667.73 L561.95,671.97 L562.24,676.23 L562.51,680.48 L562.74,684.73 L562.93,688.99 L563.09,693.25 L563.21,697.51 L563.3,701.77 L563.35,706.04 L563.37,710.3" stroke="#ff0000" stroke-width="2.5" stroke-dasharray="15.6 10.6 0.1 10.6" stroke-dashoffset="-1.2" stroke-linecap="round" fill="none"/>
<path d="M102.2,66.5 L104.85,66.51 L107.5,66.52 L110.16,66.56 L112.81,66.6 L115.46,66.65 L118.11,66.72 L120.76,66.8 L123.41,66.89 L126.06,67 L128.71,67.11 L131.36,67.24 L134.01,67.38 L136.66,67.54 L139.31,67.7 L141.95,67.88 L144.6,68.07 L147.24,68.27 L149.89,68.48 L152.53,68.71 L155.17,68.95 L157.81,69.2 L160.46,69.46 L163.09,69.74 L165.73,70.03 L168.37,70.33 L171,70.64 L173.64,70.96 L176.27,71.3 L178.9,71.65 L181.53,72.01 L184.16,72.38 L186.79,72.77 L189.41,73.16 L192.04,73.57 L194.66,73.99 L197.28,74.43 L199.9,74.87 L202.52,75.33 L205.13,75.8 L207.74,76.28 L210.35,76.77 L212.96,77.28 L215.57,77.8 L218.17,78.33 L220.78,78.87 L223.38,79.42 L225.97,79.99 L228.57,80.57 L231.16,81.16 L233.75,81.76 L236.34,82.37 L238.93,83 L241.51,83.64 L244.09,84.29 L246.67,84.95 L249.24,85.62 L251.81,86.31 L254.38,87.01 L256.95,87.72 L259.51,88.44 L262.07,89.17 L264.63,89.91 L267.18,90.67 L269.73,91.44 L272.28,92.22 L274.82,93.01 L277.37,93.82 L279.9,94.63 L282.44,95.46 L284.97,96.3 L287.5,97.15 L290.02,98.01 L292.54,98.88 L295.06,99.77 L297.57,100.67 L300.08,101.58 L302.59,102.5 L305.09,103.43 L307.59,104.37 L310.08,105.33 L312.57,106.29 L315.06,107.27 L317.54,108.26 L320.02,109.26 L322.49,110.27 L324.96,111.3 L327.42,112.33 L329.89,113.38 L332.34,114.44 L334.79,115.51 L337.24,116.59 L339.69,117.68 L342.13,118.78 L344.56,119.9 L346.99,121.02 L349.41,122.16 L351.83,123.31 L354.25,124.47 L356.66,125.64 L359.07,126.82 L361.47,128.01 L363.86,129.22 L366.26,130.43 L368.64,131.66 L371.02,132.89 L373.4,134.14 L375.77,135.4 L378.14,136.67 L380.5,137.95 L382.85,139.24 L385.2,140.54 L387.54,141.86 L389.88,143.18 L392.22,144.52 L394.54,145.86 L396.87,147.22 L399.18,148.59 L401.5,149.97 L403.8,151.35 L406.1,152.75 L408.39,154.16 L410.68,155.58 L412.96,157.01 L415.24,158.46 L417.51,159.91 L419.77,161.37 L422.03,162.84 L424.28,164.33 L426.53,165.82 L428.77,167.32 L431,168.84 L433.23,170.36 L435.45,171.9 L437.67,173.44 L439.88,175 L442.08,176.57 L444.27,178.14 L446.46,179.73 L448.64,181.32 L450.82,182.93 L452.99,184.55 L455.15,186.17 L457.31,187.81 L459.46,189.45 L461.6,191.11 L463.73,192.78 L465.86,194.45 L467.98,196.14 L470.1,197.83 L472.21,199.54 L474.31,201.25 L476.4,202.98 L478.49,204.71 L480.56,206.46 L482.64,208.21 L484.7,209.97 L486.76,211.75 L488.81,213.53 L490.85,215.32 L492.89,217.12 L494.91,218.93 L496.93,220.75 L498.95,222.58 L500.95,224.42 L502.95,226.27 L504.94,228.12 L506.92,229.99 L508.9,231.86 L510.86,233.75 L512.82,235.64 L514.78,237.54 L516.72,239.45 L518.65,241.37 L520.58,243.3 L522.5,245.24 L524.41,247.19 L526.32,249.14 L528.21,251.11 L530.1,253.08 L531.98,255.06 L533.85,257.06 L535.71,259.05 L537.57,261.06 L539.41,263.08 L541.25,265.1 L543.08,267.14 L544.9,269.18 L546.72,271.23 L548.52,273.29 L550.32,275.36 L552.1,277.43 L553.88,279.51 L555.65,281.61 L557.42,283.71 L559.17,285.81 L560.91,287.93 L562.65,290.05 L564.37,292.19 L566.09,294.33 L567.8,296.47 L569.5,298.63 L571.19,300.79 L572.88,302.96 L574.55,305.14 L576.21,307.33 L577.87,309.53 L579.52,311.73 L581.15,313.94 L582.78,316.15 L584.4,318.38 L586.01,320.61 L587.61,322.85 L589.2,325.1 L590.78,327.35 L592.36,329.61 L593.92,331.88 L595.47,334.16 L597.02,336.44 L598.55,338.73 L600.08,341.03 L601.6,343.34 L603.1,345.65 L604.6,347.97 L606.09,350.29 L607.57,352.62 L609.04,354.96 L610.49,357.31 L611.94,359.66 L613.38,362.02 L614.81,364.39 L616.23,366.76 L617.64,369.14 L619.04,371.52 L620.43,373.92 L621.82,376.31 L623.19,378.72 L624.55,381.13 L625.9,383.55 L627.24,385.97 L628.57,388.4 L629.89,390.84 L631.2,393.28 L632.5,395.73 L633.79,398.18 L635.07,400.64 L636.35,403.11 L637.61,405.58 L638.86,408.05 L640.1,410.54 L641.33,413.03 L642.54,415.52 L643.75,418.02 L644.95,420.53 L646.14,423.04 L647.32,425.55 L648.49,428.08 L649.64,430.6 L650.79,433.14 L651.93,435.68 L653.05,438.22 L654.17,440.77 L655.27,443.32 L656.37,445.88 L657.45,448.44 L658.53,451.01 L659.59,453.59 L660.64,456.16 L661.68,458.75 L662.71,461.34 L663.73,463.93 L664.74,466.53 L665.74,469.13 L666.73,471.74 L667.71,474.35 L668.67,476.96 L669.63,479.58 L670.58,482.21 L671.51,484.84 L672.43,487.47 L673.35,490.11 L674.25,492.75 L675.14,495.4 L676.02,498.05 L676.89,500.7 L677.74,503.36 L678.59,506.02 L679.43,508.69 L680.25,511.35 L681.07,514.03 L681.87,516.71 L682.66,519.39 L683.44,522.07 L684.21,524.76 L684.97,527.45 L685.72,530.15 L686.45,532.84 L687.18,535.55 L687.89,538.25 L688.6,540.96 L689.29,543.67 L689.97,546.39 L690.64,549.11 L691.3,551.83 L691.95,554.55 L692.58,557.28 L693.21,560.01 L693.82,562.74 L694.42,565.48 L695.01,568.21 L695.59,570.96 L696.16,573.7 L696.72,576.45 L697.26,579.2 L697.8,581.95 L698.32,584.7 L698.83,587.46 L699.33,590.22 L699.82,592.98 L700.3,595.74 L700.77,598.51 L701.22,601.27 L701.66,604.04 L702.1,606.81 L702.52,609.59 L702.93,612.36 L703.32,615.14 L703.71,617.92 L704.08,620.7 L704.45,623.48 L704.8,626.27 L705.14,629.05 L705.47,631.84 L705.79,634.63 L706.09,637.42 L706.39,640.21 L706.67,643 L706.94,645.8 L707.2,648.59 L707.45,651.39 L707.69,654.19 L707.91,656.99 L708.13,659.79 L708.33,662.59 L708.52,665.39 L708.7,668.19 L708.87,671 L709.02,673.8 L709.17,676.61 L709.3,679.41 L709.42,682.22 L709.53,685.02 L709.63,687.83 L709.72,690.64 L709.79,693.45 L709.86,696.26 L709.91,699.06 L709.95,701.87 L709.98,704.68 L709.99,707.49 L710,710.3" stroke="#000" stroke-width="3" fill="none"/>
<g clip-path="url(#rcL)"><path d="M102.2,66.5 L102.2,86.7 M162.98,69.73 L161.22,89.83 M223.76,79.51 L220.24,99.3 M284.54,96.15 L279.26,115.42 M345.32,120.25 L338.28,138.76 M406.1,152.75 L397.3,170.25 M466.88,195.26 L456.32,211.42 M527.66,250.53 L515.34,264.96 M588.44,324.02 L574.36,336.14 M649.22,429.67 L633.38,438.48 M679.61,509.27 L662.89,515.58 M703.92,619.48 L686.5,622.33 M710,710.3 L692.4,710.3" stroke="#000" stroke-width="2.7" stroke-linecap="round" fill="none"/>
<path d="M132.59,67.31 L132.05,80.49 M193.37,73.78 L191.74,86.83 M254.15,86.94 L251.43,99.72 M314.93,107.22 L311.12,119.59 M375.71,135.37 L370.81,147.16 M436.49,172.62 L430.5,183.65 M497.27,221.05 L490.19,231.09 M558.05,284.47 L549.88,293.2 M618.83,371.16 L609.57,378.11 M655.3,443.38 L645.38,448.85 M661.38,457.98 L651.35,463.16 M667.45,473.67 L657.32,478.52 M673.53,490.65 L663.29,495.16 M685.69,530.04 L675.22,533.73 M691.77,553.79 L681.19,557 M697.84,582.19 L687.16,584.81" stroke="#000" stroke-width="2.3" stroke-linecap="round" fill="none"/></g>
<circle cx="396.1" cy="601.3" r="9.1" fill="#4472c4" stroke="#fff" stroke-width="1.2"/>
<circle cx="411.2" cy="596.6" r="9.1" fill="#00cc99" stroke="#fff" stroke-width="1.2"/>
<circle cx="433.1" cy="586.7" r="9.1" fill="#ff0000" stroke="#fff" stroke-width="1.2"/>
<circle cx="445.6" cy="579.8" r="9.1" fill="#7030a0" stroke="#fff" stroke-width="1.2"/>
<circle cx="283" cy="619.4" r="9.1" fill="#92d050" stroke="#fff" stroke-width="1.2"/>
<circle cx="486.5" cy="525.9" r="9.1" fill="#ff3399" stroke="#fff" stroke-width="1.2"/>
<circle cx="563.4" cy="710.3" r="9.1" fill="#000000" stroke="#fff" stroke-width="1.2"/>
<text transform="translate(102.2,40.8) rotate(-90)" dy="9.9" text-anchor="middle" font-size="25">0.0</text>
<text transform="translate(165.41,44.14) rotate(-84.58)" dy="9.9" text-anchor="middle" font-size="25">0.1</text>
<text transform="translate(228.62,54.27) rotate(-79.09)" dy="9.9" text-anchor="middle" font-size="25">0.2</text>
<text transform="translate(291.85,71.52) rotate(-73.46)" dy="9.9" text-anchor="middle" font-size="25">0.3</text>
<text transform="translate(355.11,96.49) rotate(-67.61)" dy="9.9" text-anchor="middle" font-size="25">0.4</text>
<text transform="translate(418.4,130.19) rotate(-61.41)" dy="9.9" text-anchor="middle" font-size="25">0.5</text>
<text transform="translate(481.73,174.29) rotate(-54.7)" dy="9.9" text-anchor="middle" font-size="25">0.6</text>
<text transform="translate(545.12,231.67) rotate(-47.22)" dy="9.9" text-anchor="middle" font-size="25">0.7</text>
<text transform="translate(608.56,308.03) rotate(-38.46)" dy="9.9" text-anchor="middle" font-size="25">0.8</text>
<text transform="translate(672.09,417.94) rotate(-27.16)" dy="9.9" text-anchor="middle" font-size="25">0.9</text>
<text transform="translate(703.88,500.82) rotate(-19.2)" dy="9.9" text-anchor="middle" font-size="25">0.95</text>
<text transform="translate(729.33,615.65) rotate(-8.58)" dy="9.9" text-anchor="middle" font-size="25">0.99</text>
<text x="102.2" y="753.2" text-anchor="middle" font-size="25">0</text>
<text x="79" y="717.7" text-anchor="end" font-size="25">0</text>
<text x="254.15" y="753.2" text-anchor="middle" font-size="25">50</text>
<text x="79" y="556.75" text-anchor="end" font-size="25">50</text>
<text x="406.1" y="753.2" text-anchor="middle" font-size="25">100</text>
<text x="79" y="395.8" text-anchor="end" font-size="25">100</text>
<text x="558.05" y="753.2" text-anchor="middle" font-size="25">150</text>
<text x="79" y="234.85" text-anchor="end" font-size="25">150</text>
<text x="710" y="753.2" text-anchor="middle" font-size="25">200</text>
<text x="79" y="73.9" text-anchor="end" font-size="25">200</text>
<clipPath id="rcR"><rect x="927.9" y="0" width="739.44" height="710.3"/></clipPath>
<path d="M927.9,710.3 L1051.14,90.82 M927.9,710.3 L1174.38,130.83 M927.9,710.3 L1297.62,204.5 M927.9,710.3 L1420.86,330.95 M927.9,710.3 L1482.48,434.71 M927.9,710.3 L1488.64,448.16 M927.9,710.3 L1494.8,462.51 M927.9,710.3 L1500.97,477.91 M927.9,710.3 L1507.13,494.59 M927.9,710.3 L1513.29,512.88 M927.9,710.3 L1519.45,533.27 M927.9,710.3 L1525.61,556.6 M927.9,710.3 L1531.78,584.48 M927.9,710.3 L1537.94,621.11" stroke="#c4c4c4" stroke-width="1.6" fill="none"/>
<path d="M918.9,710.3 L1585.18,710.3 M927.9,718.8 L927.9,36.53" stroke="#c4c4c4" stroke-width="1.5" fill="none"/>
<path d="M927.9,710.3 L927.9,718.8 M918.9,710.3 L927.9,710.3 M1030.6,710.3 L1030.6,718.8 M918.9,604.92 L927.9,604.92 M1133.3,710.3 L1133.3,718.8 M918.9,499.55 L927.9,499.55 M1236,710.3 L1236,718.8 M918.9,394.17 L927.9,394.17 M1338.7,710.3 L1338.7,718.8 M918.9,288.8 L927.9,288.8 M1441.4,710.3 L1441.4,718.8 M918.9,183.42 L927.9,183.42 M1544.1,710.3 L1544.1,718.8 M918.9,78.05 L927.9,78.05" stroke="#c4c4c4" stroke-width="1.5" fill="none"/>
<path d="M927.9,604.92 L928.8,604.93 L929.69,604.94 L930.59,604.96 L931.48,604.99 L932.38,605.03 L933.27,605.07 L934.17,605.12 L935.06,605.18 L935.96,605.25 L936.85,605.33 L937.74,605.41 L938.64,605.5 L939.53,605.6 L940.42,605.71 L941.31,605.83 L942.19,605.95 L943.08,606.08 L943.97,606.22 L944.85,606.37 L945.73,606.53 L946.62,606.69 L947.5,606.86 L948.38,607.04 L949.25,607.23 L950.13,607.42 L951,607.63 L951.87,607.84 L952.75,608.06 L953.61,608.28 L954.48,608.52 L955.35,608.76 L956.21,609.01 L957.07,609.26 L957.93,609.53 L958.78,609.8 L959.64,610.08 L960.49,610.37 L961.34,610.67 L962.18,610.97 L963.03,611.28 L963.87,611.6 L964.7,611.92 L965.54,612.26 L966.37,612.6 L967.2,612.95 L968.03,613.3 L968.85,613.66 L969.67,614.04 L970.49,614.41 L971.3,614.8 L972.11,615.19 L972.92,615.59 L973.72,616 L974.52,616.41 L975.32,616.83 L976.11,617.26 L976.9,617.69 L977.69,618.14 L978.47,618.59 L979.25,619.04 L980.02,619.51 L980.79,619.98 L981.56,620.45 L982.32,620.94 L983.08,621.43 L983.83,621.93 L984.58,622.43 L985.33,622.94 L986.07,623.46 L986.81,623.98 L987.54,624.51 L988.27,625.05 L988.99,625.59 L989.71,626.14 L990.42,626.7 L991.13,627.26 L991.83,627.83 L992.53,628.41 L993.23,628.99 L993.91,629.58 L994.6,630.17 L995.28,630.77 L995.95,631.38 L996.62,631.99 L997.28,632.61 L997.94,633.23 L998.59,633.86 L999.24,634.5 L999.88,635.14 L1000.52,635.79 L1001.15,636.44 L1001.78,637.1 L1002.4,637.76 L1003.01,638.43 L1003.62,639.11 L1004.22,639.79 L1004.82,640.48 L1005.41,641.17 L1005.99,641.86 L1006.57,642.57 L1007.15,643.27 L1007.71,643.99 L1008.27,644.7 L1008.83,645.42 L1009.38,646.15 L1009.92,646.88 L1010.46,647.62 L1010.99,648.36 L1011.51,649.11 L1012.03,649.86 L1012.54,650.61 L1013.04,651.38 L1013.54,652.14 L1014.03,652.91 L1014.52,653.68 L1014.99,654.46 L1015.47,655.24 L1015.93,656.03 L1016.39,656.82 L1016.84,657.61 L1017.29,658.41 L1017.72,659.21 L1018.15,660.02 L1018.58,660.83 L1019,661.64 L1019.41,662.46 L1019.81,663.28 L1020.21,664.11 L1020.6,664.93 L1020.98,665.77 L1021.35,666.6 L1021.72,667.44 L1022.08,668.28 L1022.44,669.13 L1022.78,669.97 L1023.12,670.83 L1023.45,671.68 L1023.78,672.54 L1024.1,673.4 L1024.41,674.26 L1024.71,675.13 L1025,675.99 L1025.29,676.86 L1025.57,677.74 L1025.85,678.61 L1026.11,679.49 L1026.37,680.37 L1026.62,681.25 L1026.86,682.14 L1027.1,683.03 L1027.33,683.92 L1027.55,684.81 L1027.76,685.7 L1027.97,686.6 L1028.17,687.49 L1028.36,688.39 L1028.54,689.29 L1028.71,690.19 L1028.88,691.1 L1029.04,692 L1029.19,692.91 L1029.34,693.82 L1029.47,694.72 L1029.6,695.63 L1029.72,696.55 L1029.83,697.46 L1029.94,698.37 L1030.04,699.29 L1030.13,700.2 L1030.21,701.12 L1030.28,702.03 L1030.35,702.95 L1030.41,703.87 L1030.46,704.79 L1030.5,705.7 L1030.54,706.62 L1030.56,707.54 L1030.58,708.46 L1030.6,709.38 L1030.6,710.3" stroke="#222" stroke-width="1.8" stroke-dasharray="5.8 5.5" fill="none"/>
<path d="M927.9,499.55 L929.69,499.56 L931.48,499.58 L933.28,499.62 L935.07,499.68 L936.86,499.75 L938.65,499.84 L940.44,499.94 L942.23,500.06 L944.02,500.2 L945.8,500.35 L947.59,500.52 L949.37,500.7 L951.15,500.9 L952.93,501.12 L954.71,501.35 L956.49,501.6 L958.26,501.86 L960.03,502.14 L961.8,502.44 L963.57,502.75 L965.33,503.08 L967.09,503.42 L968.85,503.78 L970.61,504.16 L972.36,504.55 L974.1,504.95 L975.85,505.37 L977.59,505.81 L979.33,506.26 L981.06,506.73 L982.79,507.21 L984.52,507.71 L986.24,508.23 L987.95,508.76 L989.66,509.3 L991.37,509.86 L993.07,510.44 L994.77,511.03 L996.46,511.64 L998.15,512.26 L999.83,512.9 L1001.51,513.55 L1003.18,514.21 L1004.84,514.9 L1006.5,515.59 L1008.16,516.3 L1009.8,517.03 L1011.44,517.77 L1013.08,518.53 L1014.71,519.3 L1016.33,520.08 L1017.94,520.88 L1019.55,521.69 L1021.15,522.52 L1022.74,523.36 L1024.33,524.22 L1025.91,525.09 L1027.48,525.97 L1029.04,526.87 L1030.6,527.79 L1032.15,528.71 L1033.69,529.65 L1035.22,530.61 L1036.75,531.57 L1038.26,532.56 L1039.77,533.55 L1041.27,534.56 L1042.76,535.58 L1044.24,536.62 L1045.71,537.66 L1047.18,538.73 L1048.63,539.8 L1050.08,540.89 L1051.51,541.99 L1052.94,543.1 L1054.36,544.23 L1055.76,545.37 L1057.16,546.52 L1058.55,547.68 L1059.93,548.86 L1061.3,550.04 L1062.65,551.24 L1064,552.46 L1065.34,553.68 L1066.67,554.92 L1067.98,556.17 L1069.29,557.43 L1070.58,558.7 L1071.87,559.98 L1073.14,561.28 L1074.4,562.58 L1075.65,563.9 L1076.89,565.23 L1078.12,566.57 L1079.34,567.92 L1080.54,569.28 L1081.74,570.65 L1082.92,572.04 L1084.09,573.43 L1085.25,574.83 L1086.39,576.25 L1087.53,577.67 L1088.65,579.11 L1089.76,580.55 L1090.85,582 L1091.94,583.47 L1093.01,584.94 L1094.07,586.42 L1095.12,587.92 L1096.15,589.42 L1097.18,590.93 L1098.18,592.45 L1099.18,593.98 L1100.16,595.52 L1101.13,597.06 L1102.09,598.62 L1103.03,600.18 L1103.96,601.76 L1104.88,603.34 L1105.78,604.92 L1106.67,606.52 L1107.55,608.13 L1108.41,609.74 L1109.26,611.36 L1110.09,612.99 L1110.91,614.62 L1111.72,616.26 L1112.51,617.91 L1113.29,619.57 L1114.06,621.23 L1114.81,622.9 L1115.54,624.58 L1116.26,626.26 L1116.97,627.95 L1117.66,629.65 L1118.34,631.35 L1119.01,633.06 L1119.66,634.77 L1120.29,636.49 L1120.91,638.22 L1121.52,639.95 L1122.11,641.69 L1122.69,643.43 L1123.25,645.17 L1123.79,646.93 L1124.32,648.68 L1124.84,650.44 L1125.34,652.21 L1125.83,653.98 L1126.3,655.75 L1126.76,657.53 L1127.2,659.31 L1127.62,661.1 L1128.04,662.89 L1128.43,664.69 L1128.81,666.48 L1129.18,668.28 L1129.53,670.09 L1129.86,671.89 L1130.18,673.7 L1130.48,675.52 L1130.77,677.33 L1131.04,679.15 L1131.3,680.97 L1131.54,682.79 L1131.77,684.62 L1131.98,686.44 L1132.17,688.27 L1132.35,690.1 L1132.52,691.93 L1132.67,693.76 L1132.8,695.6 L1132.92,697.43 L1133.02,699.27 L1133.1,701.11 L1133.17,702.94 L1133.23,704.78 L1133.27,706.62 L1133.29,708.46 L1133.3,710.3" stroke="#222" stroke-width="1.8" stroke-dasharray="5.8 5.5" fill="none"/>
<path d="M927.9,457.4 L930.05,457.41 L932.2,457.44 L934.35,457.49 L936.5,457.55 L938.65,457.64 L940.8,457.75 L942.95,457.87 L945.09,458.02 L947.24,458.18 L949.38,458.36 L951.52,458.56 L953.66,458.79 L955.8,459.03 L957.94,459.29 L960.07,459.56 L962.2,459.86 L964.33,460.18 L966.46,460.51 L968.58,460.87 L970.7,461.24 L972.82,461.63 L974.93,462.05 L977.04,462.48 L979.15,462.93 L981.25,463.39 L983.35,463.88 L985.44,464.39 L987.53,464.91 L989.61,465.46 L991.69,466.02 L993.77,466.6 L995.84,467.2 L997.9,467.81 L999.96,468.45 L1002.02,469.1 L1004.07,469.78 L1006.11,470.47 L1008.15,471.18 L1010.18,471.91 L1012.2,472.65 L1014.22,473.42 L1016.23,474.2 L1018.24,475 L1020.23,475.82 L1022.22,476.65 L1024.21,477.5 L1026.18,478.38 L1028.15,479.26 L1030.11,480.17 L1032.07,481.09 L1034.01,482.04 L1035.95,482.99 L1037.88,483.97 L1039.8,484.96 L1041.71,485.97 L1043.62,487 L1045.51,488.05 L1047.4,489.11 L1049.27,490.19 L1051.14,491.28 L1053,492.39 L1054.85,493.52 L1056.69,494.67 L1058.51,495.83 L1060.33,497.01 L1062.14,498.2 L1063.94,499.41 L1065.73,500.64 L1067.51,501.88 L1069.28,503.14 L1071.03,504.41 L1072.78,505.7 L1074.51,507 L1076.24,508.33 L1077.95,509.66 L1079.65,511.01 L1081.34,512.38 L1083.01,513.76 L1084.68,515.16 L1086.33,516.57 L1087.98,517.99 L1089.61,519.43 L1091.22,520.89 L1092.83,522.36 L1094.42,523.84 L1096,525.34 L1097.57,526.85 L1099.12,528.38 L1100.66,529.92 L1102.19,531.47 L1103.7,533.04 L1105.2,534.62 L1106.69,536.22 L1108.16,537.82 L1109.62,539.44 L1111.07,541.08 L1112.5,542.72 L1113.92,544.38 L1115.32,546.05 L1116.71,547.74 L1118.09,549.44 L1119.45,551.14 L1120.8,552.87 L1122.13,554.6 L1123.45,556.34 L1124.75,558.1 L1126.03,559.87 L1127.31,561.65 L1128.56,563.44 L1129.8,565.24 L1131.03,567.06 L1132.24,568.88 L1133.44,570.72 L1134.62,572.56 L1135.78,574.42 L1136.93,576.28 L1138.06,578.16 L1139.17,580.05 L1140.27,581.94 L1141.36,583.85 L1142.43,585.77 L1143.48,587.69 L1144.51,589.63 L1145.53,591.57 L1146.53,593.52 L1147.52,595.49 L1148.48,597.46 L1149.43,599.44 L1150.37,601.42 L1151.29,603.42 L1152.19,605.42 L1153.07,607.44 L1153.94,609.46 L1154.79,611.48 L1155.62,613.52 L1156.43,615.56 L1157.23,617.61 L1158.01,619.67 L1158.77,621.73 L1159.52,623.8 L1160.24,625.88 L1160.95,627.96 L1161.64,630.05 L1162.32,632.15 L1162.97,634.25 L1163.61,636.36 L1164.23,638.47 L1164.83,640.59 L1165.42,642.72 L1165.98,644.84 L1166.53,646.98 L1167.06,649.12 L1167.57,651.26 L1168.06,653.41 L1168.54,655.56 L1168.99,657.72 L1169.43,659.88 L1169.85,662.04 L1170.25,664.21 L1170.64,666.38 L1171,668.56 L1171.35,670.74 L1171.67,672.92 L1171.98,675.1 L1172.27,677.29 L1172.54,679.48 L1172.8,681.67 L1173.03,683.86 L1173.25,686.06 L1173.44,688.26 L1173.62,690.46 L1173.78,692.66 L1173.92,694.86 L1174.04,697.06 L1174.15,699.27 L1174.23,701.47 L1174.3,703.68 L1174.34,705.89 L1174.37,708.09 L1174.38,710.3" stroke="#222" stroke-width="1.8" stroke-dasharray="5.8 5.5" fill="none"/>
<path d="M927.9,415.25 L930.41,415.26 L932.92,415.29 L935.43,415.35 L937.94,415.43 L940.44,415.53 L942.95,415.65 L945.46,415.8 L947.96,415.97 L950.46,416.16 L952.96,416.37 L955.46,416.61 L957.96,416.87 L960.45,417.15 L962.94,417.45 L965.43,417.77 L967.92,418.12 L970.4,418.49 L972.88,418.88 L975.36,419.3 L977.83,419.73 L980.3,420.19 L982.77,420.67 L985.23,421.17 L987.69,421.7 L990.14,422.24 L992.59,422.81 L995.03,423.4 L997.47,424.01 L999.9,424.65 L1002.33,425.3 L1004.75,425.98 L1007.16,426.68 L1009.57,427.4 L1011.97,428.14 L1014.37,428.91 L1016.76,429.69 L1019.14,430.5 L1021.52,431.32 L1023.89,432.17 L1026.25,433.04 L1028.61,433.93 L1030.95,434.85 L1033.29,435.78 L1035.62,436.73 L1037.94,437.71 L1040.26,438.71 L1042.56,439.72 L1044.86,440.76 L1047.15,441.82 L1049.43,442.89 L1051.7,443.99 L1053.96,445.11 L1056.21,446.25 L1058.45,447.41 L1060.68,448.59 L1062.9,449.79 L1065.11,451.01 L1067.31,452.24 L1069.5,453.5 L1071.68,454.78 L1073.85,456.08 L1076,457.39 L1078.15,458.73 L1080.28,460.08 L1082.41,461.46 L1084.52,462.85 L1086.61,464.26 L1088.7,465.69 L1090.78,467.14 L1092.84,468.61 L1094.89,470.1 L1096.92,471.6 L1098.95,473.12 L1100.96,474.66 L1102.96,476.22 L1104.94,477.8 L1106.91,479.39 L1108.87,481 L1110.81,482.63 L1112.74,484.28 L1114.66,485.94 L1116.56,487.62 L1118.44,489.32 L1120.32,491.04 L1122.17,492.77 L1124.02,494.51 L1125.84,496.28 L1127.66,498.06 L1129.45,499.86 L1131.24,501.67 L1133,503.5 L1134.75,505.34 L1136.49,507.2 L1138.21,509.08 L1139.91,510.97 L1141.6,512.87 L1143.27,514.79 L1144.92,516.73 L1146.56,518.68 L1148.18,520.65 L1149.79,522.63 L1151.38,524.62 L1152.95,526.63 L1154.5,528.65 L1156.04,530.68 L1157.56,532.73 L1159.06,534.8 L1160.54,536.87 L1162.01,538.96 L1163.46,541.07 L1164.89,543.18 L1166.3,545.31 L1167.69,547.45 L1169.07,549.6 L1170.43,551.77 L1171.76,553.95 L1173.09,556.14 L1174.39,558.34 L1175.67,560.55 L1176.93,562.77 L1178.18,565.01 L1179.41,567.26 L1180.61,569.51 L1181.8,571.78 L1182.97,574.06 L1184.12,576.35 L1185.25,578.65 L1186.36,580.96 L1187.45,583.28 L1188.52,585.61 L1189.57,587.94 L1190.6,590.29 L1191.61,592.65 L1192.6,595.01 L1193.57,597.39 L1194.52,599.77 L1195.45,602.16 L1196.36,604.56 L1197.25,606.97 L1198.12,609.39 L1198.97,611.81 L1199.79,614.24 L1200.6,616.68 L1201.39,619.12 L1202.15,621.58 L1202.89,624.04 L1203.62,626.5 L1204.32,628.97 L1205,631.45 L1205.66,633.94 L1206.3,636.43 L1206.92,638.92 L1207.51,641.42 L1208.09,643.93 L1208.64,646.44 L1209.18,648.96 L1209.69,651.48 L1210.18,654 L1210.64,656.53 L1211.09,659.07 L1211.52,661.6 L1211.92,664.14 L1212.3,666.69 L1212.66,669.24 L1213,671.79 L1213.32,674.34 L1213.61,676.9 L1213.88,679.46 L1214.14,682.02 L1214.37,684.58 L1214.57,687.15 L1214.76,689.72 L1214.92,692.29 L1215.07,694.86 L1215.19,697.43 L1215.28,700 L1215.36,702.58 L1215.42,705.15 L1215.45,707.73 L1215.46,710.3" stroke="#222" stroke-width="1.8" stroke-dasharray="5.8 5.5" fill="none"/>
<path d="M927.9,373.1 L930.77,373.11 L933.64,373.15 L936.5,373.22 L939.37,373.31 L942.24,373.42 L945.1,373.56 L947.96,373.73 L950.82,373.92 L953.68,374.14 L956.54,374.38 L959.4,374.65 L962.25,374.95 L965.1,375.27 L967.95,375.61 L970.8,375.98 L973.64,376.38 L976.48,376.8 L979.31,377.25 L982.14,377.72 L984.97,378.22 L987.79,378.75 L990.61,379.3 L993.42,379.87 L996.23,380.47 L999.03,381.09 L1001.83,381.74 L1004.62,382.42 L1007.41,383.12 L1010.18,383.84 L1012.96,384.59 L1015.73,385.36 L1018.49,386.16 L1021.24,386.99 L1023.99,387.83 L1026.72,388.71 L1029.46,389.6 L1032.18,390.53 L1034.89,391.47 L1037.6,392.44 L1040.3,393.44 L1042.99,394.45 L1045.67,395.5 L1048.35,396.56 L1051.01,397.65 L1053.67,398.77 L1056.31,399.91 L1058.94,401.07 L1061.57,402.25 L1064.18,403.46 L1066.79,404.69 L1069.38,405.95 L1071.97,407.23 L1074.54,408.53 L1077.1,409.85 L1079.65,411.2 L1082.19,412.57 L1084.71,413.96 L1087.23,415.38 L1089.73,416.82 L1092.22,418.28 L1094.7,419.76 L1097.16,421.26 L1099.61,422.79 L1102.05,424.34 L1104.48,425.91 L1106.89,427.5 L1109.29,429.11 L1111.67,430.75 L1114.04,432.4 L1116.4,434.08 L1118.74,435.78 L1121.07,437.5 L1123.38,439.24 L1125.68,441 L1127.96,442.78 L1130.23,444.58 L1132.48,446.4 L1134.72,448.25 L1136.94,450.11 L1139.15,451.99 L1141.33,453.89 L1143.51,455.81 L1145.66,457.75 L1147.8,459.71 L1149.93,461.69 L1152.03,463.69 L1154.12,465.7 L1156.19,467.74 L1158.25,469.79 L1160.28,471.86 L1162.3,473.95 L1164.3,476.06 L1166.29,478.19 L1168.25,480.33 L1170.2,482.49 L1172.13,484.67 L1174.04,486.86 L1175.93,489.08 L1177.8,491.31 L1179.65,493.55 L1181.49,495.81 L1183.3,498.09 L1185.1,500.39 L1186.87,502.7 L1188.63,505.03 L1190.36,507.37 L1192.08,509.73 L1193.78,512.1 L1195.45,514.49 L1197.11,516.89 L1198.74,519.31 L1200.35,521.74 L1201.95,524.19 L1203.52,526.65 L1205.07,529.12 L1206.6,531.61 L1208.11,534.11 L1209.6,536.63 L1211.07,539.16 L1212.51,541.7 L1213.93,544.25 L1215.34,546.82 L1216.71,549.4 L1218.07,551.99 L1219.41,554.6 L1220.72,557.21 L1222.01,559.84 L1223.28,562.48 L1224.53,565.13 L1225.75,567.79 L1226.95,570.47 L1228.13,573.15 L1229.28,575.84 L1230.41,578.55 L1231.52,581.26 L1232.61,583.98 L1233.67,586.72 L1234.71,589.46 L1235.73,592.21 L1236.72,594.97 L1237.69,597.74 L1238.64,600.52 L1239.56,603.3 L1240.46,606.1 L1241.33,608.9 L1242.18,611.71 L1243.01,614.53 L1243.81,617.36 L1244.59,620.19 L1245.34,623.03 L1246.07,625.87 L1246.78,628.72 L1247.46,631.58 L1248.12,634.45 L1248.75,637.32 L1249.36,640.19 L1249.94,643.07 L1250.5,645.96 L1251.04,648.85 L1251.55,651.75 L1252.03,654.65 L1252.49,657.55 L1252.93,660.46 L1253.34,663.37 L1253.73,666.29 L1254.09,669.21 L1254.43,672.13 L1254.74,675.05 L1255.03,677.98 L1255.29,680.91 L1255.53,683.84 L1255.74,686.78 L1255.93,689.71 L1256.09,692.65 L1256.23,695.59 L1256.34,698.53 L1256.43,701.47 L1256.49,704.42 L1256.53,707.36 L1256.54,710.3" stroke="#222" stroke-width="1.8" stroke-dasharray="5.8 5.5" fill="none"/>
<path d="M927.9,330.95 L931.13,330.96 L934.35,331.01 L937.58,331.08 L940.8,331.18 L944.03,331.31 L947.25,331.47 L950.47,331.66 L953.69,331.87 L956.91,332.12 L960.12,332.39 L963.34,332.7 L966.55,333.03 L969.75,333.39 L972.96,333.78 L976.16,334.2 L979.36,334.64 L982.55,335.12 L985.74,335.62 L988.92,336.15 L992.1,336.71 L995.28,337.3 L998.45,337.92 L1001.61,338.57 L1004.77,339.24 L1007.92,339.94 L1011.07,340.67 L1014.21,341.43 L1017.34,342.22 L1020.47,343.03 L1023.59,343.88 L1026.7,344.75 L1029.81,345.65 L1032.91,346.57 L1036,347.53 L1039.08,348.51 L1042.15,349.52 L1045.21,350.55 L1048.27,351.62 L1051.32,352.71 L1054.35,353.83 L1057.38,354.97 L1060.4,356.15 L1063.4,357.35 L1066.4,358.57 L1069.39,359.83 L1072.36,361.11 L1075.33,362.41 L1078.28,363.75 L1081.22,365.11 L1084.15,366.49 L1087.07,367.9 L1089.97,369.34 L1092.87,370.81 L1095.75,372.3 L1098.62,373.81 L1101.47,375.35 L1104.32,376.92 L1107.14,378.51 L1109.96,380.13 L1112.76,381.77 L1115.55,383.44 L1118.32,385.13 L1121.08,386.85 L1123.82,388.59 L1126.55,390.36 L1129.26,392.15 L1131.96,393.97 L1134.64,395.8 L1137.31,397.67 L1139.96,399.55 L1142.6,401.47 L1145.22,403.4 L1147.82,405.36 L1150.4,407.34 L1152.97,409.34 L1155.52,411.37 L1158.06,413.42 L1160.57,415.49 L1163.07,417.58 L1165.55,419.7 L1168.01,421.84 L1170.46,424 L1172.88,426.18 L1175.29,428.39 L1177.68,430.61 L1180.05,432.86 L1182.4,435.13 L1184.73,437.42 L1187.04,439.73 L1189.33,442.06 L1191.6,444.41 L1193.85,446.78 L1196.09,449.17 L1198.3,451.58 L1200.49,454.01 L1202.66,456.47 L1204.8,458.94 L1206.93,461.42 L1209.04,463.93 L1211.12,466.46 L1213.19,469 L1215.23,471.57 L1217.25,474.15 L1219.24,476.75 L1221.22,479.37 L1223.17,482 L1225.1,484.65 L1227.01,487.32 L1228.89,490.01 L1230.76,492.71 L1232.6,495.43 L1234.41,498.17 L1236.2,500.92 L1237.97,503.69 L1239.72,506.48 L1241.44,509.28 L1243.14,512.09 L1244.81,514.92 L1246.46,517.77 L1248.09,520.62 L1249.69,523.5 L1251.26,526.39 L1252.82,529.29 L1254.34,532.21 L1255.85,535.14 L1257.32,538.08 L1258.78,541.03 L1260.2,544 L1261.6,546.99 L1262.98,549.98 L1264.33,552.99 L1265.66,556 L1266.96,559.03 L1268.23,562.08 L1269.48,565.13 L1270.7,568.19 L1271.89,571.27 L1273.06,574.35 L1274.21,577.45 L1275.32,580.55 L1276.41,583.67 L1277.48,586.8 L1278.51,589.93 L1279.52,593.07 L1280.51,596.23 L1281.46,599.39 L1282.39,602.56 L1283.3,605.74 L1284.17,608.92 L1285.02,612.12 L1285.84,615.32 L1286.64,618.53 L1287.4,621.74 L1288.14,624.96 L1288.86,628.19 L1289.54,631.43 L1290.2,634.67 L1290.83,637.92 L1291.43,641.17 L1292,644.43 L1292.55,647.69 L1293.07,650.96 L1293.56,654.23 L1294.02,657.5 L1294.46,660.78 L1294.86,664.07 L1295.24,667.36 L1295.59,670.65 L1295.92,673.94 L1296.21,677.24 L1296.48,680.54 L1296.72,683.84 L1296.93,687.14 L1297.11,690.45 L1297.27,693.75 L1297.39,697.06 L1297.49,700.37 L1297.56,703.68 L1297.61,706.99 L1297.62,710.3" stroke="#222" stroke-width="1.8" stroke-dasharray="5.8 5.5" fill="none"/>
<path d="M927.9,288.8 L931.48,288.82 L935.07,288.86 L938.65,288.94 L942.24,289.06 L945.82,289.2 L949.4,289.38 L952.98,289.59 L956.56,289.83 L960.13,290.1 L963.7,290.4 L967.27,290.74 L970.84,291.11 L974.4,291.51 L977.96,291.94 L981.52,292.41 L985.07,292.9 L988.62,293.43 L992.16,293.99 L995.7,294.58 L999.23,295.2 L1002.76,295.86 L1006.28,296.54 L1009.8,297.26 L1013.31,298.01 L1016.81,298.79 L1020.31,299.6 L1023.8,300.45 L1027.28,301.32 L1030.76,302.23 L1034.22,303.16 L1037.68,304.13 L1041.13,305.13 L1044.57,306.16 L1048.01,307.22 L1051.43,308.31 L1054.84,309.43 L1058.25,310.58 L1061.64,311.76 L1065.03,312.98 L1068.4,314.22 L1071.77,315.49 L1075.12,316.8 L1078.46,318.13 L1081.79,319.49 L1085.11,320.88 L1088.41,322.31 L1091.71,323.76 L1094.99,325.24 L1098.26,326.75 L1101.51,328.29 L1104.75,329.86 L1107.98,331.46 L1111.2,333.09 L1114.4,334.74 L1117.59,336.42 L1120.76,338.14 L1123.92,339.88 L1127.06,341.65 L1130.19,343.45 L1133.3,345.27 L1136.4,347.12 L1139.48,349 L1142.54,350.91 L1145.59,352.85 L1148.62,354.81 L1151.64,356.8 L1154.64,358.82 L1157.62,360.86 L1160.58,362.93 L1163.53,365.03 L1166.45,367.15 L1169.36,369.3 L1172.25,371.47 L1175.13,373.68 L1177.98,375.9 L1180.81,378.15 L1183.63,380.43 L1186.42,382.73 L1189.2,385.06 L1191.96,387.41 L1194.69,389.79 L1197.41,392.19 L1200.1,394.62 L1202.78,397.06 L1205.43,399.54 L1208.06,402.03 L1210.68,404.55 L1213.27,407.1 L1215.83,409.66 L1218.38,412.25 L1220.9,414.87 L1223.4,417.5 L1225.88,420.16 L1228.34,422.84 L1230.77,425.54 L1233.18,428.26 L1235.57,431.01 L1237.93,433.77 L1240.27,436.56 L1242.59,439.37 L1244.88,442.19 L1247.15,445.04 L1249.4,447.91 L1251.61,450.8 L1253.81,453.71 L1255.98,456.63 L1258.12,459.58 L1260.24,462.55 L1262.34,465.53 L1264.41,468.54 L1266.45,471.56 L1268.47,474.6 L1270.46,477.66 L1272.43,480.73 L1274.37,483.83 L1276.28,486.94 L1278.16,490.07 L1280.02,493.21 L1281.86,496.37 L1283.66,499.55 L1285.44,502.74 L1287.19,505.95 L1288.92,509.18 L1290.61,512.42 L1292.28,515.67 L1293.93,518.94 L1295.54,522.23 L1297.12,525.53 L1298.68,528.84 L1300.21,532.17 L1301.71,535.51 L1303.18,538.86 L1304.63,542.23 L1306.04,545.61 L1307.43,549 L1308.79,552.4 L1310.12,555.82 L1311.41,559.25 L1312.68,562.69 L1313.93,566.14 L1315.14,569.6 L1316.32,573.07 L1317.47,576.56 L1318.59,580.05 L1319.69,583.55 L1320.75,587.07 L1321.78,590.59 L1322.79,594.12 L1323.76,597.66 L1324.7,601.21 L1325.62,604.76 L1326.5,608.33 L1327.35,611.9 L1328.17,615.48 L1328.96,619.07 L1329.72,622.67 L1330.45,626.27 L1331.15,629.87 L1331.82,633.49 L1332.46,637.11 L1333.07,640.73 L1333.64,644.36 L1334.19,648 L1334.7,651.64 L1335.19,655.28 L1335.64,658.93 L1336.06,662.58 L1336.45,666.24 L1336.81,669.9 L1337.14,673.56 L1337.43,677.23 L1337.7,680.9 L1337.93,684.57 L1338.14,688.24 L1338.31,691.91 L1338.45,695.59 L1338.56,699.27 L1338.64,702.94 L1338.68,706.62 L1338.7,710.3" stroke="#222" stroke-width="1.8" stroke-dasharray="5.8 5.5" fill="none"/>
<path d="M927.9,246.65 L931.84,246.67 L935.79,246.72 L939.73,246.81 L943.67,246.93 L947.61,247.09 L951.55,247.29 L955.49,247.51 L959.42,247.78 L963.35,248.08 L967.28,248.41 L971.21,248.78 L975.13,249.19 L979.05,249.63 L982.97,250.11 L986.88,250.62 L990.79,251.16 L994.69,251.74 L998.59,252.36 L1002.48,253.01 L1006.37,253.69 L1010.25,254.41 L1014.12,255.17 L1017.99,255.96 L1021.85,256.78 L1025.7,257.64 L1029.55,258.53 L1033.39,259.46 L1037.22,260.42 L1041.04,261.42 L1044.86,262.45 L1048.66,263.51 L1052.46,264.61 L1056.24,265.74 L1060.02,266.91 L1063.78,268.11 L1067.54,269.34 L1071.28,270.61 L1075.02,271.91 L1078.74,273.24 L1082.45,274.61 L1086.15,276.01 L1089.84,277.45 L1093.51,278.91 L1097.18,280.41 L1100.83,281.94 L1104.46,283.51 L1108.09,285.11 L1111.7,286.73 L1115.29,288.4 L1118.87,290.09 L1122.44,291.82 L1125.99,293.57 L1129.53,295.36 L1133.05,297.18 L1136.55,299.04 L1140.04,300.92 L1143.52,302.84 L1146.98,304.78 L1150.42,306.76 L1153.84,308.77 L1157.25,310.81 L1160.64,312.87 L1164.01,314.97 L1167.36,317.1 L1170.69,319.26 L1174.01,321.45 L1177.31,323.67 L1180.59,325.92 L1183.85,328.19 L1187.09,330.5 L1190.31,332.84 L1193.51,335.2 L1196.69,337.59 L1199.85,340.01 L1202.99,342.46 L1206.11,344.94 L1209.2,347.44 L1212.28,349.98 L1215.33,352.54 L1218.36,355.12 L1221.37,357.74 L1224.36,360.38 L1227.32,363.05 L1230.27,365.74 L1233.19,368.46 L1236.08,371.21 L1238.95,373.98 L1241.8,376.78 L1244.63,379.6 L1247.43,382.45 L1250.2,385.32 L1252.96,388.22 L1255.68,391.14 L1258.38,394.09 L1261.06,397.06 L1263.71,400.06 L1266.34,403.08 L1268.94,406.12 L1271.51,409.18 L1274.06,412.27 L1276.58,415.38 L1279.08,418.52 L1281.54,421.67 L1283.99,424.85 L1286.4,428.05 L1288.79,431.27 L1291.15,434.51 L1293.48,437.77 L1295.78,441.06 L1298.06,444.36 L1300.31,447.69 L1302.53,451.03 L1304.72,454.39 L1306.88,457.78 L1309.01,461.18 L1311.12,464.6 L1313.19,468.04 L1315.24,471.5 L1317.25,474.98 L1319.24,478.47 L1321.2,481.99 L1323.12,485.52 L1325.02,489.07 L1326.89,492.63 L1328.72,496.21 L1330.53,499.81 L1332.3,503.42 L1334.05,507.05 L1335.76,510.69 L1337.44,514.35 L1339.09,518.03 L1340.71,521.72 L1342.3,525.42 L1343.86,529.14 L1345.38,532.87 L1346.88,536.61 L1348.34,540.37 L1349.77,544.14 L1351.16,547.93 L1352.53,551.72 L1353.86,555.53 L1355.16,559.35 L1356.43,563.18 L1357.66,567.02 L1358.87,570.88 L1360.03,574.74 L1361.17,578.62 L1362.27,582.5 L1363.35,586.39 L1364.38,590.3 L1365.39,594.21 L1366.36,598.13 L1367.29,602.06 L1368.2,606 L1369.07,609.95 L1369.91,613.9 L1370.71,617.86 L1371.48,621.83 L1372.21,625.81 L1372.91,629.79 L1373.58,633.78 L1374.22,637.77 L1374.82,641.77 L1375.38,645.77 L1375.91,649.78 L1376.41,653.8 L1376.88,657.81 L1377.3,661.84 L1377.7,665.86 L1378.06,669.89 L1378.39,673.92 L1378.68,677.96 L1378.94,681.99 L1379.16,686.03 L1379.35,690.08 L1379.5,694.12 L1379.63,698.16 L1379.71,702.21 L1379.76,706.25 L1379.78,710.3" stroke="#222" stroke-width="1.8" stroke-dasharray="5.8 5.5" fill="none"/>
<path d="M927.9,204.5 L932.2,204.52 L936.5,204.58 L940.8,204.67 L945.1,204.81 L949.4,204.98 L953.7,205.19 L957.99,205.44 L962.29,205.73 L966.58,206.06 L970.86,206.42 L975.15,206.83 L979.43,207.27 L983.7,207.75 L987.98,208.27 L992.24,208.83 L996.51,209.42 L1000.76,210.06 L1005.02,210.73 L1009.26,211.44 L1013.5,212.18 L1017.73,212.97 L1021.96,213.79 L1026.18,214.65 L1030.39,215.55 L1034.6,216.49 L1038.79,217.46 L1042.98,218.48 L1047.16,219.52 L1051.33,220.61 L1055.49,221.73 L1059.64,222.9 L1063.78,224.09 L1067.91,225.33 L1072.03,226.6 L1076.14,227.91 L1080.23,229.26 L1084.32,230.64 L1088.39,232.06 L1092.45,233.51 L1096.5,235 L1100.54,236.53 L1104.56,238.1 L1108.57,239.69 L1112.57,241.33 L1116.55,243 L1120.51,244.71 L1124.47,246.45 L1128.4,248.23 L1132.33,250.04 L1136.23,251.89 L1140.12,253.77 L1144,255.69 L1147.86,257.64 L1151.7,259.63 L1155.52,261.65 L1159.33,263.71 L1163.12,265.79 L1166.89,267.92 L1170.65,270.07 L1174.38,272.26 L1178.1,274.49 L1181.79,276.74 L1185.47,279.03 L1189.13,281.36 L1192.77,283.71 L1196.39,286.1 L1199.98,288.52 L1203.56,290.97 L1207.12,293.46 L1210.65,295.97 L1214.16,298.52 L1217.65,301.1 L1221.12,303.71 L1224.57,306.35 L1228,309.02 L1231.4,311.72 L1234.77,314.46 L1238.13,317.22 L1241.46,320.01 L1244.77,322.83 L1248.05,325.69 L1251.31,328.57 L1254.55,331.48 L1257.75,334.42 L1260.94,337.39 L1264.1,340.38 L1267.23,343.41 L1270.34,346.46 L1273.42,349.54 L1276.48,352.65 L1279.5,355.78 L1282.51,358.94 L1285.48,362.13 L1288.43,365.35 L1291.35,368.59 L1294.24,371.85 L1297.11,375.15 L1299.94,378.47 L1302.75,381.81 L1305.53,385.18 L1308.28,388.57 L1311,391.99 L1313.69,395.43 L1316.36,398.9 L1318.99,402.39 L1321.6,405.9 L1324.17,409.44 L1326.71,413 L1329.23,416.58 L1331.71,420.19 L1334.16,423.81 L1336.58,427.46 L1338.97,431.13 L1341.33,434.82 L1343.66,438.53 L1345.95,442.27 L1348.22,446.02 L1350.45,449.79 L1352.65,453.59 L1354.82,457.4 L1356.95,461.23 L1359.05,465.08 L1361.12,468.95 L1363.16,472.84 L1365.16,476.75 L1367.13,480.67 L1369.07,484.61 L1370.97,488.57 L1372.84,492.55 L1374.67,496.54 L1376.47,500.55 L1378.24,504.57 L1379.97,508.61 L1381.67,512.67 L1383.34,516.74 L1384.96,520.82 L1386.56,524.92 L1388.12,529.04 L1389.64,533.17 L1391.13,537.31 L1392.58,541.46 L1394,545.63 L1395.39,549.81 L1396.73,554 L1398.04,558.2 L1399.32,562.42 L1400.56,566.65 L1401.76,570.88 L1402.93,575.13 L1404.06,579.39 L1405.16,583.66 L1406.22,587.94 L1407.24,592.22 L1408.23,596.52 L1409.17,600.82 L1410.09,605.14 L1410.96,609.46 L1411.8,613.79 L1412.61,618.13 L1413.37,622.47 L1414.1,626.82 L1414.79,631.18 L1415.45,635.54 L1416.06,639.91 L1416.64,644.28 L1417.19,648.66 L1417.69,653.04 L1418.16,657.43 L1418.59,661.82 L1418.98,666.22 L1419.34,670.62 L1419.66,675.02 L1419.94,679.42 L1420.18,683.83 L1420.39,688.24 L1420.56,692.65 L1420.69,697.06 L1420.78,701.47 L1420.84,705.89 L1420.86,710.3" stroke="#222" stroke-width="1.8" stroke-dasharray="5.8 5.5" fill="none"/>
<path d="M927.9,162.35 L932.56,162.37 L937.22,162.43 L941.88,162.54 L946.54,162.68 L951.19,162.87 L955.85,163.1 L960.5,163.37 L965.15,163.68 L969.8,164.04 L974.44,164.44 L979.09,164.87 L983.72,165.35 L988.36,165.87 L992.98,166.43 L997.61,167.04 L1002.22,167.68 L1006.84,168.37 L1011.44,169.1 L1016.04,169.86 L1020.64,170.67 L1025.22,171.53 L1029.8,172.42 L1034.37,173.35 L1038.93,174.32 L1043.49,175.34 L1048.03,176.39 L1052.57,177.49 L1057.1,178.63 L1061.61,179.8 L1066.12,181.02 L1070.62,182.28 L1075.1,183.58 L1079.58,184.91 L1084.04,186.29 L1088.49,187.71 L1092.93,189.17 L1097.35,190.67 L1101.77,192.2 L1106.17,193.78 L1110.55,195.4 L1114.92,197.05 L1119.28,198.74 L1123.63,200.48 L1127.95,202.25 L1132.27,204.06 L1136.57,205.91 L1140.85,207.8 L1145.11,209.72 L1149.36,211.69 L1153.6,213.69 L1157.81,215.73 L1162.01,217.81 L1166.19,219.92 L1170.35,222.07 L1174.49,224.26 L1178.62,226.49 L1182.72,228.75 L1186.81,231.05 L1190.87,233.39 L1194.92,235.76 L1198.95,238.17 L1202.95,240.62 L1206.94,243.1 L1210.9,245.61 L1214.84,248.16 L1218.76,250.75 L1222.66,253.37 L1226.53,256.03 L1230.38,258.72 L1234.21,261.45 L1238.02,264.21 L1241.8,267 L1245.56,269.83 L1249.29,272.69 L1253,275.58 L1256.69,278.51 L1260.35,281.47 L1263.98,284.46 L1267.59,287.49 L1271.17,290.55 L1274.73,293.64 L1278.26,296.76 L1281.77,299.91 L1285.24,303.09 L1288.69,306.31 L1292.11,309.55 L1295.51,312.83 L1298.88,316.14 L1302.21,319.47 L1305.52,322.84 L1308.8,326.24 L1312.06,329.66 L1315.28,333.12 L1318.47,336.6 L1321.64,340.11 L1324.77,343.65 L1327.87,347.22 L1330.95,350.81 L1333.99,354.43 L1337,358.08 L1339.98,361.76 L1342.93,365.46 L1345.84,369.19 L1348.73,372.95 L1351.58,376.73 L1354.4,380.54 L1357.19,384.37 L1359.95,388.22 L1362.67,392.1 L1365.36,396.01 L1368.02,399.94 L1370.64,403.89 L1373.23,407.87 L1375.78,411.87 L1378.3,415.89 L1380.79,419.93 L1383.24,424 L1385.66,428.08 L1388.04,432.19 L1390.39,436.32 L1392.7,440.48 L1394.98,444.65 L1397.22,448.84 L1399.43,453.05 L1401.6,457.28 L1403.73,461.54 L1405.83,465.81 L1407.89,470.09 L1409.92,474.4 L1411.9,478.73 L1413.86,483.07 L1415.77,487.43 L1417.65,491.81 L1419.49,496.2 L1421.29,500.61 L1423.05,505.03 L1424.78,509.48 L1426.47,513.93 L1428.12,518.4 L1429.73,522.89 L1431.31,527.39 L1432.84,531.9 L1434.34,536.43 L1435.8,540.97 L1437.22,545.53 L1438.6,550.09 L1439.95,554.67 L1441.25,559.26 L1442.52,563.87 L1443.74,568.48 L1444.93,573.1 L1446.08,577.74 L1447.18,582.38 L1448.25,587.04 L1449.28,591.7 L1450.27,596.37 L1451.22,601.06 L1452.13,605.75 L1453,610.44 L1453.83,615.15 L1454.62,619.86 L1455.37,624.58 L1456.07,629.31 L1456.74,634.04 L1457.37,638.78 L1457.96,643.52 L1458.51,648.27 L1459.01,653.02 L1459.48,657.78 L1459.91,662.54 L1460.29,667.31 L1460.64,672.08 L1460.94,676.85 L1461.21,681.62 L1461.43,686.4 L1461.61,691.18 L1461.76,695.96 L1461.86,700.74 L1461.92,705.52 L1461.94,710.3" stroke="#222" stroke-width="1.8" stroke-dasharray="5.8 5.5" fill="none"/>
<path d="M927.9,120.2 L932.92,120.22 L937.94,120.29 L942.95,120.4 L947.97,120.56 L952.99,120.76 L958,121.01 L963.01,121.3 L968.02,121.64 L973.02,122.02 L978.03,122.45 L983.02,122.92 L988.02,123.43 L993.01,123.99 L997.99,124.6 L1002.97,125.25 L1007.94,125.94 L1012.91,126.68 L1017.87,127.47 L1022.82,128.29 L1027.77,129.16 L1032.71,130.08 L1037.64,131.04 L1042.56,132.05 L1047.47,133.1 L1052.38,134.19 L1057.27,135.32 L1062.16,136.5 L1067.03,137.73 L1071.9,139 L1076.75,140.31 L1081.59,141.66 L1086.42,143.06 L1091.24,144.5 L1096.05,145.98 L1100.84,147.51 L1105.62,149.08 L1110.39,150.69 L1115.14,152.35 L1119.88,154.05 L1124.6,155.79 L1129.31,157.57 L1134,159.39 L1138.68,161.26 L1143.34,163.17 L1147.99,165.12 L1152.62,167.11 L1157.23,169.14 L1161.82,171.22 L1166.4,173.33 L1170.96,175.49 L1175.5,177.68 L1180.02,179.92 L1184.52,182.2 L1189,184.52 L1193.46,186.87 L1197.9,189.27 L1202.32,191.71 L1206.72,194.19 L1211.1,196.7 L1215.46,199.26 L1219.8,201.85 L1224.11,204.49 L1228.4,207.16 L1232.67,209.87 L1236.91,212.61 L1241.13,215.4 L1245.33,218.22 L1249.5,221.08 L1253.65,223.98 L1257.78,226.92 L1261.87,229.89 L1265.95,232.9 L1269.99,235.94 L1274.02,239.03 L1278.01,242.14 L1281.98,245.29 L1285.92,248.48 L1289.83,251.71 L1293.72,254.96 L1297.58,258.26 L1301.41,261.58 L1305.21,264.95 L1308.99,268.34 L1312.73,271.77 L1316.45,275.23 L1320.13,278.73 L1323.79,282.26 L1327.41,285.82 L1331.01,289.41 L1334.57,293.04 L1338.1,296.69 L1341.61,300.38 L1345.08,304.1 L1348.52,307.85 L1351.92,311.63 L1355.3,315.45 L1358.64,319.29 L1361.95,323.16 L1365.22,327.06 L1368.47,330.99 L1371.68,334.95 L1374.85,338.94 L1377.99,342.95 L1381.1,347 L1384.17,351.07 L1387.21,355.17 L1390.21,359.3 L1393.18,363.45 L1396.11,367.63 L1399.01,371.83 L1401.87,376.06 L1404.7,380.32 L1407.48,384.6 L1410.24,388.91 L1412.95,393.24 L1415.63,397.59 L1418.27,401.97 L1420.87,406.38 L1423.44,410.8 L1425.97,415.25 L1428.46,419.72 L1430.91,424.21 L1433.33,428.73 L1435.7,433.26 L1438.04,437.82 L1440.34,442.4 L1442.59,447 L1444.81,451.62 L1446.99,456.26 L1449.14,460.91 L1451.24,465.59 L1453.3,470.28 L1455.32,475 L1457.3,479.73 L1459.24,484.48 L1461.14,489.24 L1463,494.03 L1464.82,498.83 L1466.6,503.64 L1468.34,508.47 L1470.03,513.32 L1471.69,518.18 L1473.3,523.06 L1474.87,527.95 L1476.4,532.85 L1477.89,537.77 L1479.34,542.7 L1480.74,547.65 L1482.1,552.6 L1483.42,557.57 L1484.7,562.55 L1485.94,567.54 L1487.13,572.54 L1488.28,577.56 L1489.39,582.58 L1490.45,587.61 L1491.47,592.65 L1492.45,597.7 L1493.39,602.76 L1494.28,607.83 L1495.13,612.91 L1495.94,617.99 L1496.7,623.08 L1497.42,628.17 L1498.1,633.28 L1498.73,638.38 L1499.32,643.5 L1499.87,648.62 L1500.37,653.74 L1500.83,658.87 L1501.25,664 L1501.62,669.14 L1501.95,674.28 L1502.23,679.42 L1502.47,684.56 L1502.67,689.71 L1502.82,694.85 L1502.93,700 L1503,705.15 L1503.02,710.3" stroke="#222" stroke-width="1.8" stroke-dasharray="5.8 5.5" fill="none"/>
<path d="M1517.19,710.3 L1517.13,706.62 L1516.94,702.95 L1516.63,699.29 L1516.19,695.63 L1515.63,692 L1514.95,688.39 L1514.14,684.81 L1513.21,681.25 L1512.17,677.74 L1511,674.26 L1509.71,670.83 L1508.31,667.44 L1506.8,664.11 L1505.17,660.83 L1503.43,657.61 L1501.59,654.46 L1499.63,651.38 L1497.58,648.36 L1495.42,645.42 L1493.17,642.57 L1490.81,639.79 L1488.37,637.1 L1485.83,634.5 L1483.21,631.99 L1480.51,629.58 L1477.72,627.26 L1474.86,625.05 L1471.92,622.94 L1468.92,620.94 L1465.84,619.04 L1462.71,617.26 L1459.51,615.59 L1456.26,614.04 L1452.96,612.6 L1449.62,611.28 L1446.23,610.08 L1442.8,609.01 L1439.34,608.06 L1435.85,607.23 L1432.33,606.53 L1428.79,605.95 L1425.23,605.5 L1421.66,605.18 L1418.08,604.99 L1414.49,604.92 L1410.91,604.99 L1407.33,605.18 L1403.76,605.5 L1400.2,605.95 L1396.66,606.53 L1393.14,607.23 L1389.65,608.06 L1386.18,609.01 L1382.76,610.08 L1379.37,611.28 L1376.02,612.6 L1372.72,614.04 L1369.47,615.59 L1366.28,617.26 L1363.14,619.04 L1360.07,620.94 L1357.06,622.94 L1354.13,625.05 L1351.26,627.26 L1348.48,629.58 L1345.77,631.99 L1343.15,634.5 L1340.62,637.1 L1338.17,639.79 L1335.82,642.57 L1333.56,645.42 L1331.41,648.36 L1329.35,651.38 L1327.4,654.46 L1325.55,657.61 L1323.81,660.83 L1322.19,664.11 L1320.67,667.44 L1319.27,670.83 L1317.99,674.26 L1316.82,677.74 L1315.77,681.25 L1314.84,684.81 L1314.04,688.39 L1313.35,692 L1312.79,695.63 L1312.36,699.29 L1312.04,702.95 L1311.86,706.62 L1311.79,710.3" stroke="#4a4a4a" stroke-width="1.8" stroke-dasharray="1.8 4.8" fill="none"/><path d="M1517.19,527.79 L1510.92,524.22 L1504.53,520.88 L1498.04,517.77 L1491.44,514.9 L1484.74,512.26 L1477.96,509.86 L1471.11,507.71 L1464.18,505.81 L1457.2,504.16 L1450.16,502.75 L1443.08,501.6 L1435.96,500.7 L1428.82,500.06 L1421.66,499.68 L1414.49,499.55 L1407.32,499.68 L1400.16,500.06 L1393.02,500.7 L1385.91,501.6 L1378.83,502.75 L1371.79,504.16 L1364.8,505.81 L1357.88,507.71 L1351.02,509.86 L1344.24,512.26 L1337.55,514.9 L1330.95,517.77 L1324.45,520.88 L1318.06,524.22 L1311.79,527.79 L1305.65,531.57 L1299.63,535.58 L1293.76,539.8 L1288.04,544.23 L1282.46,548.86 L1277.05,553.68 L1271.81,558.7 L1266.74,563.9 L1261.85,569.28 L1257.15,574.83 L1252.64,580.55 L1248.32,586.42 L1244.21,592.45 L1240.3,598.62 L1236.61,604.92 L1233.14,611.36 L1229.88,617.91 L1226.85,624.58 L1224.05,631.35 L1221.48,638.22 L1219.15,645.17 L1217.05,652.21 L1215.19,659.31 L1213.58,666.48 L1212.21,673.7 L1211.09,680.97 L1210.22,688.27 L1209.59,695.6 L1209.22,702.94 L1209.09,710.3" stroke="#4a4a4a" stroke-width="1.8" stroke-dasharray="1.8 4.8" fill="none"/><path d="M1498.79,472.65 L1490.66,469.78 L1482.43,467.2 L1474.12,464.91 L1465.74,462.93 L1457.29,461.24 L1448.8,459.86 L1440.26,458.79 L1431.69,458.02 L1423.09,457.55 L1414.49,457.4 L1405.89,457.55 L1397.3,458.02 L1388.73,458.79 L1380.19,459.86 L1371.69,461.24 L1363.25,462.93 L1354.86,464.91 L1346.55,467.2 L1338.33,469.78 L1330.19,472.65 L1322.16,475.82 L1314.24,479.26 L1306.44,482.99 L1298.78,487 L1291.25,491.28 L1283.88,495.83 L1276.66,500.64 L1269.62,505.7 L1262.74,511.01 L1256.06,516.57 L1249.57,522.36 L1243.27,528.38 L1237.19,534.62 L1231.32,541.08 L1225.68,547.74 L1220.26,554.6 L1215.09,561.65 L1210.15,568.88 L1205.47,576.28 L1201.03,583.85 L1196.86,591.57 L1192.96,599.44 L1189.32,607.44 L1185.96,615.56 L1182.88,623.8 L1180.08,632.15 L1177.56,640.59 L1175.33,649.12 L1173.4,657.72 L1171.76,666.38 L1170.41,675.1 L1169.36,683.86 L1168.61,692.66 L1168.16,701.47 L1168.01,710.3" stroke="#4a4a4a" stroke-width="1.8" stroke-dasharray="1.8 4.8" fill="none"/><path d="M1474.28,421.7 L1464.43,419.73 L1454.51,418.12 L1444.55,416.87 L1434.55,415.97 L1424.53,415.43 L1414.49,415.25 L1404.46,415.43 L1394.43,415.97 L1384.43,416.87 L1374.47,418.12 L1364.56,419.73 L1354.71,421.7 L1344.93,424.01 L1335.23,426.68 L1325.63,429.69 L1316.14,433.04 L1306.77,436.73 L1297.53,440.76 L1288.43,445.11 L1279.49,449.79 L1270.71,454.78 L1262.11,460.08 L1253.69,465.69 L1245.47,471.6 L1237.45,477.8 L1229.65,484.28 L1222.08,491.04 L1214.74,498.06 L1207.64,505.34 L1200.79,512.87 L1194.21,520.65 L1187.89,528.65 L1181.85,536.87 L1176.09,545.31 L1170.63,553.95 L1165.46,562.77 L1160.59,571.78 L1156.04,580.96 L1151.79,590.29 L1147.87,599.77 L1144.27,609.39 L1141.01,619.12 L1138.07,628.97 L1135.47,638.92 L1133.22,648.96 L1131.3,659.07 L1129.73,669.24 L1128.51,679.46 L1127.63,689.72 L1127.11,700 L1126.93,710.3" stroke="#4a4a4a" stroke-width="1.8" stroke-dasharray="1.8 4.8" fill="none"/><path d="M1448.84,374.95 L1437.42,373.92 L1425.96,373.31 L1414.49,373.1 L1403.02,373.31 L1391.57,373.92 L1380.14,374.95 L1368.75,376.38 L1357.42,378.22 L1346.16,380.47 L1334.99,383.12 L1323.91,386.16 L1312.94,389.6 L1302.09,393.44 L1291.38,397.65 L1280.82,402.25 L1270.43,407.23 L1260.21,412.57 L1250.17,418.28 L1240.34,424.34 L1230.72,430.75 L1221.32,437.5 L1212.16,444.58 L1203.25,451.99 L1194.59,459.71 L1186.2,467.74 L1178.09,476.06 L1170.27,484.67 L1162.74,493.55 L1155.52,502.7 L1148.62,512.1 L1142.04,521.74 L1135.79,531.61 L1129.88,541.7 L1124.32,551.99 L1119.11,562.48 L1114.27,573.15 L1109.78,583.98 L1105.67,594.97 L1101.94,606.1 L1098.58,617.36 L1095.61,628.72 L1093.03,640.19 L1090.85,651.75 L1089.05,663.37 L1087.65,675.05 L1086.65,686.78 L1086.05,698.53 L1085.85,710.3" stroke="#4a4a4a" stroke-width="1.8" stroke-dasharray="1.8 4.8" fill="none"/><path d="M1414.49,330.95 L1401.59,331.18 L1388.7,331.87 L1375.85,333.03 L1363.04,334.64 L1350.29,336.71 L1337.62,339.24 L1325.05,342.22 L1312.58,345.65 L1300.24,349.52 L1288.04,353.83 L1275.99,358.57 L1264.11,363.75 L1252.42,369.34 L1240.92,375.35 L1229.63,381.77 L1218.57,388.59 L1207.75,395.8 L1197.18,403.4 L1186.87,411.37 L1176.84,419.7 L1167.1,428.39 L1157.66,437.42 L1148.54,446.78 L1139.74,456.47 L1131.27,466.46 L1123.15,476.75 L1115.38,487.32 L1107.98,498.17 L1100.95,509.28 L1094.31,520.62 L1088.05,532.21 L1082.19,544 L1076.74,556 L1071.69,568.19 L1067.07,580.55 L1062.87,593.07 L1059.09,605.74 L1055.75,618.53 L1052.85,631.43 L1050.39,644.43 L1048.37,657.5 L1046.8,670.65 L1045.67,683.84 L1045,697.06 L1044.77,710.3" stroke="#4a4a4a" stroke-width="1.8" stroke-dasharray="1.8 4.8" fill="none"/><path d="M1385.84,289.83 L1371.55,291.11 L1357.32,292.9 L1343.16,295.2 L1329.08,298.01 L1315.11,301.32 L1301.26,305.13 L1287.55,309.43 L1273.99,314.22 L1260.6,319.49 L1247.41,325.24 L1234.41,331.46 L1221.63,338.14 L1209.09,345.27 L1196.8,352.85 L1184.78,360.86 L1173.03,369.3 L1161.58,378.15 L1150.44,387.41 L1139.61,397.06 L1129.13,407.1 L1118.99,417.5 L1109.21,428.26 L1099.8,439.37 L1090.78,450.8 L1082.15,462.55 L1073.92,474.6 L1066.11,486.94 L1058.73,499.55 L1051.78,512.42 L1045.27,525.53 L1039.21,538.86 L1033.61,552.4 L1028.47,566.14 L1023.8,580.05 L1019.61,594.12 L1015.9,608.33 L1012.67,622.67 L1009.93,637.11 L1007.69,651.64 L1005.94,666.24 L1004.69,680.9 L1003.94,695.59 L1003.69,710.3" stroke="#4a4a4a" stroke-width="1.8" stroke-dasharray="1.8 4.8" fill="none"/><path d="M1336.02,253.69 L1320.54,256.78 L1305.17,260.42 L1289.94,264.61 L1274.85,269.34 L1259.94,274.61 L1245.22,280.41 L1230.7,286.73 L1216.4,293.57 L1202.35,300.92 L1188.55,308.77 L1175.03,317.1 L1161.8,325.92 L1148.88,335.2 L1136.29,344.94 L1124.03,355.12 L1112.13,365.74 L1100.59,376.78 L1089.44,388.22 L1078.68,400.06 L1068.33,412.27 L1058.41,424.85 L1048.91,437.77 L1039.87,451.03 L1031.28,464.6 L1023.15,478.48 L1015.51,492.63 L1008.35,507.05 L1001.68,521.72 L995.52,536.61 L989.86,551.72 L984.73,567.02 L980.12,582.5 L976.04,598.13 L972.49,613.9 L969.48,629.79 L967.01,645.77 L965.09,661.84 L963.71,677.96 L962.89,694.12 L962.61,710.3" stroke="#4a4a4a" stroke-width="1.8" stroke-dasharray="1.8 4.8" fill="none"/><path d="M1295.23,219.52 L1278.61,224.09 L1262.16,229.26 L1245.89,235 L1229.83,241.33 L1213.99,248.23 L1198.39,255.69 L1183.06,263.71 L1168.01,272.26 L1153.26,281.36 L1138.83,290.97 L1124.74,301.1 L1111,311.72 L1097.62,322.83 L1084.64,334.42 L1072.05,346.46 L1059.89,358.94 L1048.15,371.85 L1036.86,385.18 L1026.03,398.9 L1015.68,413 L1005.81,427.46 L996.44,442.27 L987.58,457.4 L979.23,472.84 L971.42,488.57 L964.15,504.57 L957.43,520.82 L951.26,537.31 L945.66,554 L940.63,570.88 L936.18,587.94 L932.3,605.14 L929.02,622.47" stroke="#4a4a4a" stroke-width="1.8" stroke-dasharray="1.8 4.8" fill="none"/><path d="M1267.29,183.58 L1249.47,189.17 L1231.84,195.4 L1214.44,202.25 L1197.28,209.72 L1180.38,217.81 L1163.78,226.49 L1147.47,235.76 L1131.49,245.61 L1115.86,256.03 L1100.59,267 L1085.7,278.51 L1071.22,290.55 L1057.15,303.09 L1043.52,316.14 L1030.34,329.66 L1017.62,343.65 L1005.39,358.08 L993.66,372.95 L982.45,388.22 L971.75,403.89 L961.6,419.93 L952,436.33 L942.96,453.05 L934.5,470.09" stroke="#4a4a4a" stroke-width="1.8" stroke-dasharray="1.8 4.8" fill="none"/><path d="M1217.79,155.79 L1199.05,163.17 L1180.57,171.22 L1162.38,179.92 L1144.49,189.27 L1126.93,199.26 L1109.73,209.87 L1092.89,221.08 L1076.45,232.9 L1060.41,245.29 L1044.81,258.26 L1029.66,271.77 L1014.98,285.82 L1000.79,300.38 L987.1,315.45 L973.93,330.99 L961.29,347 L949.21,363.45 L937.7,380.32" stroke="#4a4a4a" stroke-width="1.8" stroke-dasharray="1.8 4.8" fill="none"/>
<path d="M927.9,211.03 L932.15,211.05 L936.39,211.11 L940.64,211.2 L944.88,211.34 L949.12,211.51 L953.37,211.72 L957.61,211.96 L961.84,212.25 L966.08,212.57 L970.31,212.93 L974.54,213.33 L978.76,213.77 L982.98,214.24 L987.2,214.75 L991.41,215.3 L995.62,215.89 L999.82,216.52 L1004.02,217.18 L1008.21,217.88 L1012.4,218.62 L1016.57,219.39 L1020.75,220.21 L1024.91,221.06 L1029.07,221.94 L1033.22,222.87 L1037.36,223.83 L1041.49,224.83 L1045.62,225.86 L1049.73,226.94 L1053.84,228.05 L1057.94,229.19 L1062.02,230.37 L1066.1,231.59 L1070.17,232.85 L1074.22,234.14 L1078.27,235.47 L1082.3,236.83 L1086.32,238.23 L1090.33,239.67 L1094.32,241.14 L1098.31,242.65 L1102.28,244.19 L1106.24,245.77 L1110.18,247.39 L1114.11,249.04 L1118.03,250.72 L1121.93,252.44 L1125.82,254.2 L1129.69,255.99 L1133.54,257.81 L1137.38,259.67 L1141.21,261.56 L1145.02,263.49 L1148.81,265.45 L1152.58,267.44 L1156.34,269.47 L1160.08,271.54 L1163.8,273.63 L1167.51,275.76 L1171.2,277.92 L1174.86,280.12 L1178.51,282.34 L1182.14,284.61 L1185.75,286.9 L1189.35,289.22 L1192.92,291.58 L1196.47,293.97 L1200,296.39 L1203.51,298.84 L1207,301.32 L1210.47,303.84 L1213.91,306.38 L1217.34,308.96 L1220.74,311.57 L1224.12,314.21 L1227.48,316.87 L1230.81,319.57 L1234.12,322.3 L1237.41,325.05 L1240.68,327.84 L1243.92,330.65 L1247.13,333.5 L1250.33,336.37 L1253.49,339.27 L1256.64,342.2 L1259.76,345.16 L1262.85,348.14 L1265.92,351.16 L1268.96,354.2 L1271.97,357.27 L1274.96,360.36 L1277.93,363.48 L1280.86,366.63 L1283.77,369.8 L1286.65,373 L1289.51,376.23 L1292.34,379.48 L1295.14,382.75 L1297.91,386.05 L1300.65,389.38 L1303.37,392.73 L1306.05,396.1 L1308.71,399.5 L1311.34,402.92 L1313.94,406.37 L1316.51,409.83 L1319.05,413.32 L1321.56,416.84 L1324.04,420.37 L1326.49,423.93 L1328.91,427.51 L1331.3,431.11 L1333.66,434.74 L1335.99,438.38 L1338.29,442.04 L1340.55,445.73 L1342.79,449.43 L1344.99,453.16 L1347.16,456.9 L1349.3,460.67 L1351.41,464.45 L1353.48,468.25 L1355.53,472.07 L1357.54,475.91 L1359.51,479.76 L1361.46,483.64 L1363.37,487.53 L1365.25,491.44 L1367.09,495.36 L1368.9,499.3 L1370.68,503.26 L1372.42,507.23 L1374.13,511.22 L1375.81,515.22 L1377.45,519.24 L1379.06,523.27 L1380.63,527.32 L1382.17,531.38 L1383.68,535.45 L1385.15,539.54 L1386.58,543.64 L1387.98,547.75 L1389.35,551.88 L1390.68,556.02 L1391.97,560.17 L1393.23,564.33 L1394.45,568.5 L1395.64,572.68 L1396.8,576.88 L1397.91,581.08 L1398.99,585.29 L1400.04,589.52 L1401.05,593.75 L1402.02,597.99 L1402.96,602.24 L1403.86,606.5 L1404.72,610.76 L1405.55,615.04 L1406.34,619.32 L1407.1,623.6 L1407.82,627.9 L1408.5,632.2 L1409.15,636.5 L1409.76,640.82 L1410.33,645.13 L1410.87,649.45 L1411.36,653.78 L1411.83,658.11 L1412.25,662.45 L1412.64,666.79 L1412.99,671.13 L1413.31,675.47 L1413.59,679.82 L1413.83,684.17 L1414.03,688.52 L1414.2,692.88 L1414.33,697.23 L1414.42,701.59 L1414.47,705.94 L1414.49,710.3" stroke="#ff0000" stroke-width="2.5" stroke-dasharray="15.6 10.6 0.1 10.6" stroke-dashoffset="-1.2" stroke-linecap="round" fill="none"/>
<path d="M927.9,78.05 L930.59,78.06 L933.28,78.07 L935.97,78.1 L938.65,78.15 L941.34,78.2 L944.03,78.27 L946.72,78.34 L949.41,78.44 L952.09,78.54 L954.78,78.65 L957.46,78.78 L960.15,78.92 L962.83,79.07 L965.52,79.23 L968.2,79.4 L970.88,79.59 L973.57,79.79 L976.25,80 L978.93,80.22 L981.61,80.46 L984.28,80.7 L986.96,80.96 L989.64,81.23 L992.31,81.51 L994.98,81.81 L997.66,82.11 L1000.33,82.43 L1003,82.76 L1005.66,83.1 L1008.33,83.46 L1011,83.83 L1013.66,84.2 L1016.32,84.59 L1018.98,84.99 L1021.64,85.41 L1024.29,85.83 L1026.95,86.27 L1029.6,86.72 L1032.25,87.18 L1034.9,87.66 L1037.55,88.14 L1040.19,88.64 L1042.84,89.15 L1045.48,89.67 L1048.11,90.2 L1050.75,90.74 L1053.38,91.3 L1056.02,91.87 L1058.64,92.45 L1061.27,93.04 L1063.89,93.64 L1066.51,94.25 L1069.13,94.88 L1071.75,95.52 L1074.36,96.17 L1076.97,96.83 L1079.58,97.5 L1082.18,98.19 L1084.79,98.89 L1087.38,99.59 L1089.98,100.31 L1092.57,101.04 L1095.16,101.79 L1097.75,102.54 L1100.33,103.31 L1102.91,104.09 L1105.49,104.88 L1108.06,105.68 L1110.63,106.49 L1113.19,107.31 L1115.76,108.15 L1118.32,108.99 L1120.87,109.85 L1123.42,110.72 L1125.97,111.6 L1128.52,112.5 L1131.06,113.4 L1133.59,114.31 L1136.12,115.24 L1138.65,116.18 L1141.18,117.13 L1143.7,118.09 L1146.21,119.06 L1148.73,120.04 L1151.23,121.04 L1153.74,122.04 L1156.24,123.06 L1158.73,124.09 L1161.22,125.13 L1163.71,126.18 L1166.19,127.24 L1168.67,128.31 L1171.14,129.39 L1173.61,130.49 L1176.07,131.59 L1178.53,132.71 L1180.98,133.84 L1183.43,134.98 L1185.88,136.13 L1188.32,137.29 L1190.75,138.46 L1193.18,139.64 L1195.61,140.83 L1198.02,142.04 L1200.44,143.25 L1202.85,144.48 L1205.25,145.71 L1207.65,146.96 L1210.04,148.22 L1212.43,149.49 L1214.81,150.77 L1217.19,152.06 L1219.56,153.36 L1221.93,154.67 L1224.29,155.99 L1226.64,157.32 L1228.99,158.66 L1231.33,160.02 L1233.67,161.38 L1236,162.76 L1238.33,164.14 L1240.65,165.53 L1242.96,166.94 L1245.27,168.36 L1247.57,169.78 L1249.86,171.22 L1252.15,172.66 L1254.44,174.12 L1256.71,175.59 L1258.98,177.07 L1261.25,178.55 L1263.51,180.05 L1265.76,181.56 L1268,183.08 L1270.24,184.6 L1272.47,186.14 L1274.7,187.69 L1276.92,189.25 L1279.13,190.81 L1281.34,192.39 L1283.54,193.98 L1285.73,195.58 L1287.91,197.18 L1290.09,198.8 L1292.27,200.43 L1294.43,202.06 L1296.59,203.71 L1298.74,205.36 L1300.88,207.03 L1303.02,208.7 L1305.15,210.39 L1307.27,212.08 L1309.39,213.78 L1311.49,215.5 L1313.59,217.22 L1315.69,218.95 L1317.77,220.69 L1319.85,222.44 L1321.92,224.2 L1323.99,225.97 L1326.04,227.75 L1328.09,229.53 L1330.13,231.33 L1332.16,233.13 L1334.19,234.95 L1336.21,236.77 L1338.22,238.61 L1340.22,240.45 L1342.21,242.3 L1344.2,244.16 L1346.18,246.02 L1348.15,247.9 L1350.11,249.79 L1352.06,251.68 L1354.01,253.59 L1355.95,255.5 L1357.88,257.42 L1359.8,259.35 L1361.71,261.29 L1363.62,263.23 L1365.52,265.19 L1367.4,267.15 L1369.29,269.12 L1371.16,271.1 L1373.02,273.09 L1374.88,275.09 L1376.72,277.09 L1378.56,279.11 L1380.39,281.13 L1382.21,283.16 L1384.02,285.2 L1385.83,287.24 L1387.62,289.3 L1389.41,291.36 L1391.18,293.43 L1392.95,295.51 L1394.71,297.59 L1396.46,299.69 L1398.2,301.79 L1399.94,303.9 L1401.66,306.01 L1403.38,308.14 L1405.08,310.27 L1406.78,312.41 L1408.46,314.56 L1410.14,316.72 L1411.81,318.88 L1413.47,321.05 L1415.12,323.23 L1416.76,325.41 L1418.4,327.6 L1420.02,329.8 L1421.63,332.01 L1423.24,334.22 L1424.83,336.44 L1426.42,338.67 L1427.99,340.91 L1429.56,343.15 L1431.11,345.4 L1432.66,347.66 L1434.2,349.92 L1435.73,352.19 L1437.24,354.47 L1438.75,356.75 L1440.25,359.04 L1441.74,361.34 L1443.22,363.64 L1444.69,365.95 L1446.15,368.27 L1447.6,370.59 L1449.04,372.92 L1450.47,375.26 L1451.89,377.6 L1453.3,379.95 L1454.7,382.31 L1456.09,384.67 L1457.47,387.03 L1458.84,389.41 L1460.2,391.79 L1461.54,394.17 L1462.88,396.57 L1464.21,398.97 L1465.53,401.37 L1466.84,403.78 L1468.14,406.19 L1469.43,408.62 L1470.7,411.04 L1471.97,413.48 L1473.23,415.92 L1474.48,418.36 L1475.71,420.81 L1476.94,423.26 L1478.15,425.73 L1479.36,428.19 L1480.55,430.66 L1481.74,433.14 L1482.91,435.62 L1484.07,438.11 L1485.23,440.6 L1486.37,443.1 L1487.5,445.6 L1488.62,448.11 L1489.73,450.62 L1490.83,453.14 L1491.91,455.66 L1492.99,458.19 L1494.06,460.72 L1495.12,463.26 L1496.16,465.8 L1497.19,468.35 L1498.22,470.9 L1499.23,473.45 L1500.23,476.02 L1501.22,478.58 L1502.2,481.15 L1503.17,483.72 L1504.13,486.3 L1505.08,488.88 L1506.01,491.47 L1506.94,494.06 L1507.85,496.65 L1508.76,499.25 L1509.65,501.85 L1510.53,504.46 L1511.4,507.07 L1512.26,509.68 L1513.1,512.3 L1513.94,514.92 L1514.77,517.55 L1515.58,520.18 L1516.38,522.81 L1517.17,525.45 L1517.96,528.09 L1518.72,530.73 L1519.48,533.38 L1520.23,536.03 L1520.96,538.68 L1521.69,541.34 L1522.4,544 L1523.1,546.66 L1523.79,549.33 L1524.47,552 L1525.14,554.67 L1525.8,557.34 L1526.44,560.02 L1527.07,562.7 L1527.7,565.39 L1528.31,568.07 L1528.91,570.76 L1529.49,573.46 L1530.07,576.15 L1530.63,578.85 L1531.19,581.55 L1531.73,584.25 L1532.26,586.95 L1532.78,589.66 L1533.29,592.37 L1533.78,595.08 L1534.27,597.8 L1534.74,600.51 L1535.2,603.23 L1535.65,605.95 L1536.09,608.67 L1536.51,611.39 L1536.93,614.12 L1537.33,616.85 L1537.72,619.58 L1538.1,622.31 L1538.47,625.04 L1538.83,627.77 L1539.17,630.51 L1539.51,633.25 L1539.83,635.99 L1540.14,638.73 L1540.44,641.47 L1540.72,644.21 L1541,646.96 L1541.26,649.7 L1541.51,652.45 L1541.76,655.2 L1541.98,657.94 L1542.2,660.69 L1542.41,663.44 L1542.6,666.2 L1542.78,668.95 L1542.95,671.7 L1543.11,674.46 L1543.26,677.21 L1543.39,679.97 L1543.51,682.72 L1543.62,685.48 L1543.72,688.23 L1543.81,690.99 L1543.89,693.75 L1543.95,696.51 L1544.01,699.27 L1544.05,702.02 L1544.08,704.78 L1544.09,707.54 L1544.1,710.3" stroke="#000" stroke-width="3" fill="none"/>
<g clip-path="url(#rcR)"><path d="M927.9,78.05 L927.9,97.25 M989.52,81.22 L987.83,100.32 M1051.14,90.82 L1047.76,109.64 M1112.76,107.17 L1107.69,125.49 M1174.38,130.83 L1167.62,148.43 M1236,162.76 L1227.55,179.38 M1297.62,204.5 L1287.48,219.86 M1359.24,258.78 L1347.41,272.49 M1420.86,330.95 L1407.34,342.47 M1482.48,434.71 L1467.27,443.08 M1513.29,512.88 L1497.23,518.88 M1537.94,621.11 L1521.21,623.82 M1544.1,710.3 L1527.2,710.3" stroke="#000" stroke-width="2.7" stroke-linecap="round" fill="none"/>
<path d="M958.71,78.84 L958.17,90.63 M1020.33,85.2 L1018.69,96.87 M1081.95,98.13 L1079.23,109.55 M1143.57,118.04 L1139.75,129.09 M1205.19,145.68 L1200.29,156.22 M1266.81,182.27 L1260.82,192.12 M1328.43,229.83 L1321.34,238.8 M1390.05,292.11 L1381.88,299.91 M1451.67,377.24 L1442.4,383.46 M1488.64,448.16 L1478.72,453.06 M1494.8,462.51 L1484.78,467.13 M1500.97,477.91 L1490.83,482.25 M1507.13,494.59 L1496.88,498.62 M1519.45,533.27 L1508.99,536.57 M1525.61,556.6 L1515.04,559.47 M1531.78,584.48 L1521.09,586.83" stroke="#000" stroke-width="2.3" stroke-linecap="round" fill="none"/></g>
<circle cx="1322.4" cy="633.3" r="9.1" fill="#4472c4" stroke="#fff" stroke-width="1.2"/>
<circle cx="1342.2" cy="630.2" r="9.1" fill="#00cc99" stroke="#fff" stroke-width="1.2"/>
<circle cx="1373.3" cy="609.3" r="9.1" fill="#ff0000" stroke="#fff" stroke-width="1.2"/>
<circle cx="1391.3" cy="594" r="9.1" fill="#7030a0" stroke="#fff" stroke-width="1.2"/>
<circle cx="1160.8" cy="673.4" r="9.1" fill="#92d050" stroke="#fff" stroke-width="1.2"/>
<circle cx="1474.5" cy="494.7" r="9.1" fill="#ff3399" stroke="#fff" stroke-width="1.2"/>
<circle cx="1414.5" cy="710.4" r="9.1" fill="#000000" stroke="#fff" stroke-width="1.2"/>
<text transform="translate(927.9,52.35) rotate(-90)" dy="9.9" text-anchor="middle" font-size="25">0.0</text>
<text transform="translate(992.03,55.64) rotate(-84.41)" dy="9.9" text-anchor="middle" font-size="25">0.1</text>
<text transform="translate(1056.15,65.62) rotate(-78.75)" dy="9.9" text-anchor="middle" font-size="25">0.2</text>
<text transform="translate(1120.29,82.6) rotate(-72.96)" dy="9.9" text-anchor="middle" font-size="25">0.3</text>
<text transform="translate(1184.44,107.18) rotate(-66.96)" dy="9.9" text-anchor="middle" font-size="25">0.4</text>
<text transform="translate(1248.6,140.36) rotate(-60.63)" dy="9.9" text-anchor="middle" font-size="25">0.5</text>
<text transform="translate(1312.79,183.75) rotate(-53.83)" dy="9.9" text-anchor="middle" font-size="25">0.6</text>
<text transform="translate(1376.99,240.2) rotate(-46.31)" dy="9.9" text-anchor="middle" font-size="25">0.7</text>
<text transform="translate(1441.23,315.28) rotate(-37.58)" dy="9.9" text-anchor="middle" font-size="25">0.8</text>
<text transform="translate(1505.49,423.27) rotate(-26.42)" dy="9.9" text-anchor="middle" font-size="25">0.9</text>
<text transform="translate(1537.64,504.67) rotate(-18.64)" dy="9.9" text-anchor="middle" font-size="25">0.95</text>
<text transform="translate(1563.37,617.39) rotate(-8.32)" dy="9.9" text-anchor="middle" font-size="25">0.99</text>
<text x="927.9" y="753.2" text-anchor="middle" font-size="25">0</text>
<text x="904" y="717.7" text-anchor="end" font-size="25">0</text>
<text x="1030.6" y="753.2" text-anchor="middle" font-size="25">50</text>
<text x="904" y="612.32" text-anchor="end" font-size="25">50</text>
<text x="1133.3" y="753.2" text-anchor="middle" font-size="25">100</text>
<text x="904" y="506.95" text-anchor="end" font-size="25">100</text>
<text x="1236" y="753.2" text-anchor="middle" font-size="25">150</text>
<text x="904" y="401.57" text-anchor="end" font-size="25">150</text>
<text x="1338.7" y="753.2" text-anchor="middle" font-size="25">200</text>
<text x="904" y="296.2" text-anchor="end" font-size="25">200</text>
<text x="1441.4" y="753.2" text-anchor="middle" font-size="25">250</text>
<text x="904" y="190.82" text-anchor="end" font-size="25">250</text>
<text x="1544.1" y="753.2" text-anchor="middle" font-size="25">300</text>
<text x="904" y="85.45" text-anchor="end" font-size="25">300</text>
<text transform="translate(526.8,174.6) rotate(45)" font-size="25" textLength="119" lengthAdjust="spacingAndGlyphs">Correlation</text>
<text transform="translate(1358.3,183) rotate(45)" font-size="25" textLength="119" lengthAdjust="spacingAndGlyphs">Correlation</text>
<text x="290.84" y="789.6" font-size="25" font-weight="bold" textLength="213.14" lengthAdjust="spacingAndGlyphs">Standard Deviation</text>
<text x="1150.84" y="789.8" font-size="25" font-weight="bold" textLength="213.14" lengthAdjust="spacingAndGlyphs">Standard Deviation</text>
<text transform="translate(20.4,494.76) rotate(-90)" font-size="25" font-weight="bold" textLength="213.55" lengthAdjust="spacingAndGlyphs">Standard Deviation</text>
<text transform="translate(856,480.56) rotate(-90)" font-size="25" font-weight="bold" textLength="213.65" lengthAdjust="spacingAndGlyphs">Standard Deviation</text>
<text x="603.93" y="23.7" font-size="31" font-weight="bold" textLength="199.65" lengthAdjust="spacingAndGlyphs">Calibrate Stage</text>
<text x="1457.56" y="27" font-size="31" font-weight="bold" textLength="186.92" lengthAdjust="spacingAndGlyphs">Validate Stage</text>
<circle cx="1532.5" cy="64.4" r="8" fill="#000000"/>
<text x="1549.94" y="71.7" font-size="25" textLength="98.77" lengthAdjust="spacingAndGlyphs">Observed</text>
<circle cx="1532.5" cy="93.1" r="8" fill="#ff0000"/>
<text x="1550.01" y="103.4" font-size="25" textLength="67.3" lengthAdjust="spacingAndGlyphs">GR2M</text>
<circle cx="1532.5" cy="125.1" r="8" fill="#92d050"/>
<text x="1550.31" y="135.6" font-size="25" textLength="52.13" lengthAdjust="spacingAndGlyphs">MLR</text>
<circle cx="1532.5" cy="158.4" r="8" fill="#4472c4"/>
<text x="1550.28" y="168.4" font-size="25" textLength="34.91" lengthAdjust="spacingAndGlyphs">M5</text>
<circle cx="1532.5" cy="190.2" r="8" fill="#7030a0"/>
<text x="1550.36" y="200.8" font-size="25" textLength="27.04" lengthAdjust="spacingAndGlyphs">RF</text>
<circle cx="1532.5" cy="222.4" r="8" fill="#00cc99"/>
<text x="1549.36" y="232.4" font-size="25" textLength="45.02" lengthAdjust="spacingAndGlyphs">SPA</text>
<circle cx="1532.5" cy="253.3" r="8" fill="#ff3399"/>
<text x="1550.3" y="265.1" font-size="25" textLength="44.27" lengthAdjust="spacingAndGlyphs">PSA</text>
</svg></body></html>
